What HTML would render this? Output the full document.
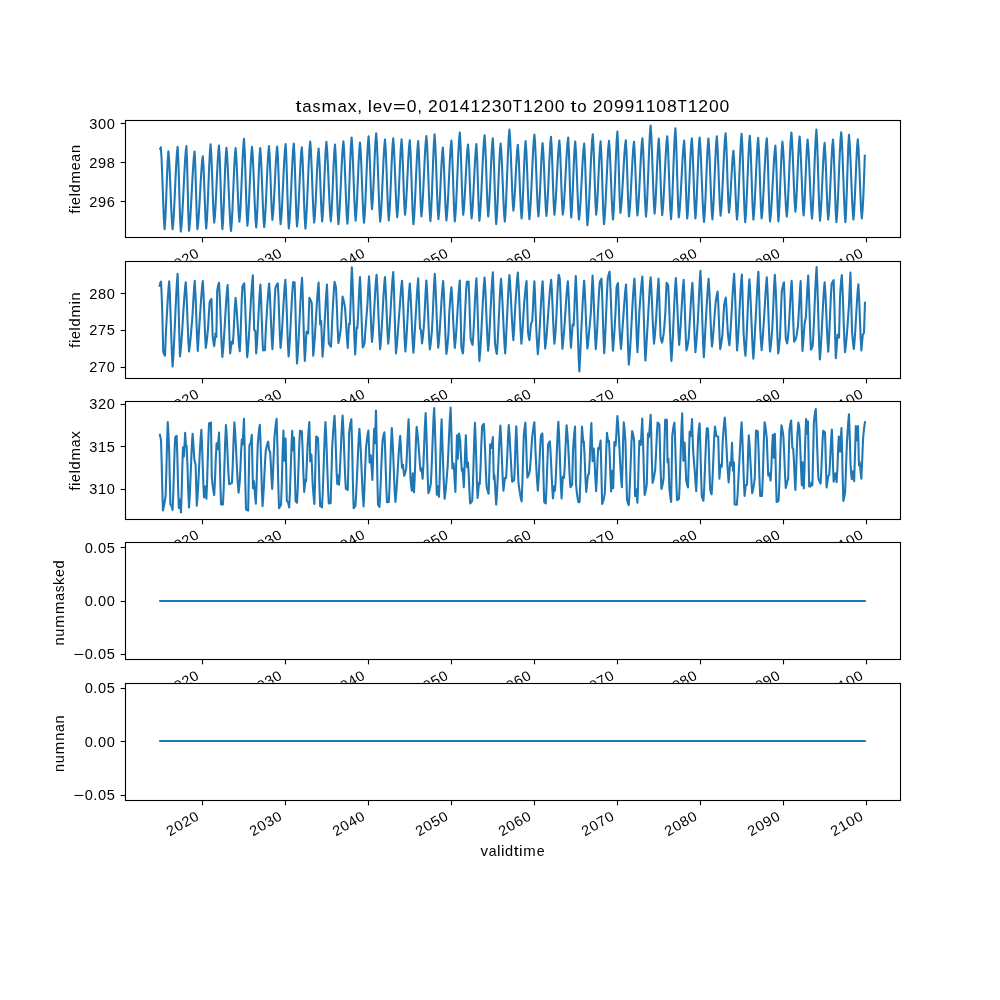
<!DOCTYPE html>
<html><head><meta charset="utf-8"><title>plot</title>
<style>html,body{margin:0;padding:0;background:#fff}svg{display:block;will-change:transform}text{font-family:"Liberation Sans",sans-serif;fill:#000}</style></head><body>
<svg width="1000" height="1000" viewBox="0 0 1000 1000">
<rect width="1000" height="1000" fill="#fff"/>
<g id="ax0">
<rect x="125.0" y="120.00" width="775.0" height="117.24" fill="#fff"/>
<line x1="202.50" x2="202.50" y1="237.50" y2="242.36" stroke="#000" stroke-width="1.11"/>
<line x1="285.50" x2="285.50" y1="237.50" y2="242.36" stroke="#000" stroke-width="1.11"/>
<line x1="368.50" x2="368.50" y1="237.50" y2="242.36" stroke="#000" stroke-width="1.11"/>
<line x1="451.50" x2="451.50" y1="237.50" y2="242.36" stroke="#000" stroke-width="1.11"/>
<line x1="534.50" x2="534.50" y1="237.50" y2="242.36" stroke="#000" stroke-width="1.11"/>
<line x1="617.50" x2="617.50" y1="237.50" y2="242.36" stroke="#000" stroke-width="1.11"/>
<line x1="700.50" x2="700.50" y1="237.50" y2="242.36" stroke="#000" stroke-width="1.11"/>
<line x1="783.50" x2="783.50" y1="237.50" y2="242.36" stroke="#000" stroke-width="1.11"/>
<line x1="866.50" x2="866.50" y1="237.50" y2="242.36" stroke="#000" stroke-width="1.11"/>
<line x1="120.64" x2="125.5" y1="123.50" y2="123.50" stroke="#000" stroke-width="1.11"/>
<text transform="translate(115.28,128.58)" font-size="14.14" xml:space="preserve"><tspan x="-26.15" textLength="8.13" lengthAdjust="spacingAndGlyphs">3</tspan><tspan x="-17.31" textLength="8.13" lengthAdjust="spacingAndGlyphs">0</tspan><tspan x="-8.48" textLength="8.13" lengthAdjust="spacingAndGlyphs">0</tspan></text>
<line x1="120.64" x2="125.5" y1="162.50" y2="162.50" stroke="#000" stroke-width="1.11"/>
<text transform="translate(115.28,167.58)" font-size="14.14" xml:space="preserve"><tspan x="-26.15" textLength="8.13" lengthAdjust="spacingAndGlyphs">2</tspan><tspan x="-17.31" textLength="8.13" lengthAdjust="spacingAndGlyphs">9</tspan><tspan x="-8.48" textLength="8.13" lengthAdjust="spacingAndGlyphs">8</tspan></text>
<line x1="120.64" x2="125.5" y1="201.50" y2="201.50" stroke="#000" stroke-width="1.11"/>
<text transform="translate(115.28,206.58)" font-size="14.14" xml:space="preserve"><tspan x="-26.15" textLength="8.13" lengthAdjust="spacingAndGlyphs">2</tspan><tspan x="-17.31" textLength="8.13" lengthAdjust="spacingAndGlyphs">9</tspan><tspan x="-8.48" textLength="8.13" lengthAdjust="spacingAndGlyphs">6</tspan></text>
<text transform="translate(200.12,256.14) rotate(-30)" font-size="14.14" xml:space="preserve"><tspan x="-34.98" textLength="8.13" lengthAdjust="spacingAndGlyphs">2</tspan><tspan x="-26.15" textLength="8.13" lengthAdjust="spacingAndGlyphs">0</tspan><tspan x="-17.31" textLength="8.13" lengthAdjust="spacingAndGlyphs">2</tspan><tspan x="-8.48" textLength="8.13" lengthAdjust="spacingAndGlyphs">0</tspan></text>
<text transform="translate(283.16,256.14) rotate(-30)" font-size="14.14" xml:space="preserve"><tspan x="-34.98" textLength="8.13" lengthAdjust="spacingAndGlyphs">2</tspan><tspan x="-26.15" textLength="8.13" lengthAdjust="spacingAndGlyphs">0</tspan><tspan x="-17.31" textLength="8.13" lengthAdjust="spacingAndGlyphs">3</tspan><tspan x="-8.48" textLength="8.13" lengthAdjust="spacingAndGlyphs">0</tspan></text>
<text transform="translate(366.17,256.14) rotate(-30)" font-size="14.14" xml:space="preserve"><tspan x="-34.98" textLength="8.13" lengthAdjust="spacingAndGlyphs">2</tspan><tspan x="-26.15" textLength="8.13" lengthAdjust="spacingAndGlyphs">0</tspan><tspan x="-17.31" textLength="8.13" lengthAdjust="spacingAndGlyphs">4</tspan><tspan x="-8.48" textLength="8.13" lengthAdjust="spacingAndGlyphs">0</tspan></text>
<text transform="translate(449.21,256.14) rotate(-30)" font-size="14.14" xml:space="preserve"><tspan x="-34.98" textLength="8.13" lengthAdjust="spacingAndGlyphs">2</tspan><tspan x="-26.15" textLength="8.13" lengthAdjust="spacingAndGlyphs">0</tspan><tspan x="-17.31" textLength="8.13" lengthAdjust="spacingAndGlyphs">5</tspan><tspan x="-8.48" textLength="8.13" lengthAdjust="spacingAndGlyphs">0</tspan></text>
<text transform="translate(532.23,256.14) rotate(-30)" font-size="14.14" xml:space="preserve"><tspan x="-34.98" textLength="8.13" lengthAdjust="spacingAndGlyphs">2</tspan><tspan x="-26.15" textLength="8.13" lengthAdjust="spacingAndGlyphs">0</tspan><tspan x="-17.31" textLength="8.13" lengthAdjust="spacingAndGlyphs">6</tspan><tspan x="-8.48" textLength="8.13" lengthAdjust="spacingAndGlyphs">0</tspan></text>
<text transform="translate(615.27,256.14) rotate(-30)" font-size="14.14" xml:space="preserve"><tspan x="-34.98" textLength="8.13" lengthAdjust="spacingAndGlyphs">2</tspan><tspan x="-26.15" textLength="8.13" lengthAdjust="spacingAndGlyphs">0</tspan><tspan x="-17.31" textLength="8.13" lengthAdjust="spacingAndGlyphs">7</tspan><tspan x="-8.48" textLength="8.13" lengthAdjust="spacingAndGlyphs">0</tspan></text>
<text transform="translate(698.28,256.14) rotate(-30)" font-size="14.14" xml:space="preserve"><tspan x="-34.98" textLength="8.13" lengthAdjust="spacingAndGlyphs">2</tspan><tspan x="-26.15" textLength="8.13" lengthAdjust="spacingAndGlyphs">0</tspan><tspan x="-17.31" textLength="8.13" lengthAdjust="spacingAndGlyphs">8</tspan><tspan x="-8.48" textLength="8.13" lengthAdjust="spacingAndGlyphs">0</tspan></text>
<text transform="translate(781.32,256.14) rotate(-30)" font-size="14.14" xml:space="preserve"><tspan x="-34.98" textLength="8.13" lengthAdjust="spacingAndGlyphs">2</tspan><tspan x="-26.15" textLength="8.13" lengthAdjust="spacingAndGlyphs">0</tspan><tspan x="-17.31" textLength="8.13" lengthAdjust="spacingAndGlyphs">9</tspan><tspan x="-8.48" textLength="8.13" lengthAdjust="spacingAndGlyphs">0</tspan></text>
<text transform="translate(864.34,256.14) rotate(-30)" font-size="14.14" xml:space="preserve"><tspan x="-34.98" textLength="8.13" lengthAdjust="spacingAndGlyphs">2</tspan><tspan x="-26.15" textLength="8.13" lengthAdjust="spacingAndGlyphs">1</tspan><tspan x="-17.31" textLength="8.13" lengthAdjust="spacingAndGlyphs">0</tspan><tspan x="-8.48" textLength="8.13" lengthAdjust="spacingAndGlyphs">0</tspan></text>
<text transform="translate(79.94,179.32) rotate(-90)" font-size="14.14" xml:space="preserve"><tspan x="-34.48" textLength="4.50" lengthAdjust="spacingAndGlyphs">f</tspan><tspan x="-29.64" textLength="3.55" lengthAdjust="spacingAndGlyphs">i</tspan><tspan x="-25.59" textLength="7.86" lengthAdjust="spacingAndGlyphs">e</tspan><tspan x="-17.23" textLength="3.55" lengthAdjust="spacingAndGlyphs">l</tspan><tspan x="-13.18" textLength="8.11" lengthAdjust="spacingAndGlyphs">d</tspan><tspan x="-4.17" textLength="12.45" lengthAdjust="spacingAndGlyphs">m</tspan><tspan x="9.16" textLength="7.86" lengthAdjust="spacingAndGlyphs">e</tspan><tspan x="17.70" textLength="7.83" lengthAdjust="spacingAndGlyphs">a</tspan><tspan x="26.23" textLength="8.10" lengthAdjust="spacingAndGlyphs">n</tspan></text>
<path d="M160.23 148.90 L160.80 147.24 L161.56 158.12 L162.32 177.26 L163.08 199.14 L163.84 218.28 L164.60 229.16 L165.36 218.81 L166.12 200.61 L166.88 179.79 L167.64 161.59 L168.40 151.24 L169.10 159.18 L169.80 173.17 L170.50 190.20 L171.20 207.23 L171.90 221.22 L172.60 229.16 L173.31 222.44 L174.03 210.68 L174.74 195.90 L175.46 180.10 L176.17 165.32 L176.89 153.56 L177.60 146.84 L178.24 158.09 L178.88 177.88 L179.52 200.52 L180.16 220.31 L180.80 231.56 L181.50 225.78 L182.20 215.79 L182.90 203.00 L183.60 188.80 L184.30 174.60 L185.00 161.81 L185.70 151.82 L186.40 146.04 L187.05 161.66 L187.70 188.40 L188.35 215.14 L189.00 230.76 L189.70 225.40 L190.40 216.13 L191.10 204.27 L191.80 191.10 L192.50 177.93 L193.20 166.07 L193.90 156.80 L194.60 151.44 L195.30 165.77 L196.00 190.30 L196.70 214.83 L197.40 229.16 L198.08 224.23 L198.75 215.71 L199.43 204.81 L200.10 192.70 L200.78 180.59 L201.45 169.69 L202.12 161.17 L202.80 156.24 L203.48 165.85 L204.16 182.74 L204.84 202.06 L205.52 218.95 L206.20 228.56 L206.93 219.97 L207.67 204.82 L208.40 186.40 L209.13 167.98 L209.87 152.83 L210.60 144.24 L211.32 154.67 L212.04 173.01 L212.76 193.99 L213.48 212.33 L214.20 222.76 L214.89 216.45 L215.57 205.40 L216.26 191.52 L216.94 176.68 L217.63 162.80 L218.31 151.75 L219.00 145.44 L219.68 156.56 L220.36 176.12 L221.04 198.48 L221.72 218.04 L222.40 229.16 L223.07 220.88 L223.73 206.27 L224.40 188.50 L225.07 170.73 L225.73 156.12 L226.40 147.84 L227.06 154.63 L227.71 166.50 L228.37 181.43 L229.03 197.37 L229.69 212.30 L230.34 224.17 L231.00 230.96 L231.66 224.19 L232.31 212.34 L232.97 197.45 L233.63 181.55 L234.29 166.66 L234.94 154.81 L235.60 148.04 L236.36 157.83 L237.12 175.05 L237.88 194.75 L238.64 211.97 L239.40 221.76 L240.06 214.99 L240.71 203.14 L241.37 188.25 L242.03 172.35 L242.69 157.46 L243.34 145.61 L244.00 138.84 L244.68 150.38 L245.36 170.69 L246.04 193.91 L246.72 214.22 L247.40 225.76 L248.06 219.32 L248.71 208.04 L249.37 193.87 L250.03 178.73 L250.69 164.56 L251.34 153.28 L252.00 146.84 L252.70 155.04 L253.40 169.51 L254.10 187.10 L254.80 204.69 L255.50 219.16 L256.20 227.36 L256.87 219.28 L257.53 205.03 L258.20 187.70 L258.87 170.37 L259.53 156.12 L260.20 148.04 L260.87 156.10 L261.53 170.31 L262.20 187.60 L262.87 204.89 L263.53 219.10 L264.20 227.16 L264.89 220.54 L265.57 208.95 L266.26 194.38 L266.94 178.82 L267.63 164.25 L268.31 152.66 L269.00 146.04 L269.68 155.86 L270.36 173.12 L271.04 192.88 L271.72 210.14 L272.40 219.96 L273.09 213.96 L273.77 203.45 L274.46 190.25 L275.14 176.15 L275.83 162.95 L276.51 152.44 L277.20 146.44 L277.88 156.76 L278.56 174.92 L279.24 195.68 L279.92 213.84 L280.60 224.16 L281.31 217.62 L282.03 206.17 L282.74 191.78 L283.46 176.42 L284.17 162.03 L284.89 150.58 L285.60 144.04 L286.24 155.27 L286.88 175.01 L287.52 197.59 L288.16 217.33 L288.80 228.56 L289.51 221.61 L290.23 209.45 L290.94 194.16 L291.66 177.84 L292.37 162.55 L293.09 150.39 L293.80 143.44 L294.44 154.45 L295.08 173.82 L295.72 195.98 L296.36 215.35 L297.00 226.36 L297.69 219.90 L298.37 208.60 L299.06 194.39 L299.74 179.21 L300.43 165.00 L301.11 153.70 L301.80 147.24 L302.52 158.04 L303.24 177.04 L303.96 198.76 L304.68 217.76 L305.40 228.56 L306.09 221.45 L306.77 209.00 L307.46 193.36 L308.14 176.64 L308.83 161.00 L309.51 148.55 L310.20 141.44 L310.87 149.70 L311.53 164.27 L312.20 182.00 L312.87 199.73 L313.53 214.30 L314.20 222.56 L314.93 215.01 L315.67 201.70 L316.40 185.50 L317.13 169.30 L317.87 155.99 L318.60 148.44 L319.32 158.12 L320.04 175.16 L320.76 194.64 L321.48 211.68 L322.20 221.36 L322.90 213.26 L323.60 198.98 L324.30 181.60 L325.00 164.22 L325.70 149.94 L326.40 141.84 L327.13 149.94 L327.87 164.22 L328.60 181.60 L329.33 198.98 L330.07 213.26 L330.80 221.36 L331.50 213.52 L332.20 199.71 L332.90 182.90 L333.60 166.09 L334.30 152.28 L335.00 144.44 L335.68 155.03 L336.36 173.65 L337.04 194.95 L337.72 213.57 L338.40 224.16 L339.11 217.39 L339.83 205.54 L340.54 190.65 L341.26 174.75 L341.97 159.86 L342.69 148.01 L343.40 141.24 L344.07 149.65 L344.73 164.47 L345.40 182.50 L346.07 200.53 L346.73 215.35 L347.40 223.76 L348.10 214.97 L348.80 199.46 L349.50 180.60 L350.20 161.74 L350.90 146.23 L351.60 137.44 L352.27 145.93 L352.93 160.89 L353.60 179.10 L354.27 197.31 L354.93 212.27 L355.60 220.76 L356.33 212.78 L357.07 198.71 L357.80 181.60 L358.53 164.49 L359.27 150.42 L360.00 142.44 L360.67 150.62 L361.33 165.05 L362.00 182.60 L362.67 200.15 L363.33 214.58 L364.00 222.76 L364.66 215.70 L365.31 203.34 L365.97 187.80 L366.63 171.20 L367.29 155.66 L367.94 143.30 L368.60 136.24 L369.28 145.93 L369.96 162.96 L370.64 182.44 L371.32 199.47 L372.00 209.16 L372.70 201.43 L373.40 187.79 L374.10 171.20 L374.80 154.61 L375.50 140.97 L376.20 133.24 L376.87 142.24 L377.53 158.10 L378.20 177.40 L378.87 196.70 L379.53 212.56 L380.20 221.56 L380.89 214.87 L381.57 203.17 L382.26 188.46 L382.94 172.74 L383.63 158.03 L384.31 146.33 L385.00 139.64 L385.76 150.36 L386.52 169.22 L387.28 190.78 L388.04 209.64 L388.80 220.36 L389.53 211.99 L390.27 197.24 L391.00 179.30 L391.73 161.36 L392.47 146.61 L393.20 138.24 L393.87 146.28 L394.53 160.46 L395.20 177.70 L395.87 194.94 L396.53 209.12 L397.20 217.16 L397.93 209.22 L398.67 195.23 L399.40 178.20 L400.13 161.17 L400.87 147.18 L401.60 139.24 L402.28 149.27 L402.96 166.91 L403.64 187.09 L404.32 204.73 L405.00 214.76 L405.69 208.68 L406.37 198.03 L407.06 184.65 L407.74 170.35 L408.43 156.97 L409.11 146.32 L409.80 140.24 L410.52 151.39 L411.24 170.99 L411.96 193.41 L412.68 213.01 L413.40 224.16 L414.09 217.37 L414.77 205.50 L415.46 190.57 L416.14 174.63 L416.83 159.70 L417.51 147.83 L418.20 141.04 L418.84 151.04 L419.48 168.64 L420.12 188.76 L420.76 206.36 L421.40 216.36 L422.11 209.80 L422.83 198.33 L423.54 183.90 L424.26 168.50 L424.97 154.07 L425.69 142.60 L426.40 136.04 L427.07 144.71 L427.73 160.00 L428.40 178.60 L429.07 197.20 L429.73 212.49 L430.40 221.16 L431.10 212.31 L431.80 196.69 L432.50 177.70 L433.20 158.71 L433.90 143.09 L434.60 134.24 L435.36 145.52 L436.12 165.36 L436.88 188.04 L437.64 207.88 L438.40 219.16 L439.13 211.85 L439.87 198.97 L440.60 183.30 L441.33 167.63 L442.07 154.75 L442.80 147.44 L443.52 157.12 L444.24 174.16 L444.96 193.64 L445.68 210.68 L446.40 220.36 L447.11 213.83 L447.83 202.42 L448.54 188.07 L449.26 172.73 L449.97 158.38 L450.69 146.97 L451.40 140.44 L452.08 151.19 L452.76 170.09 L453.44 191.71 L454.12 210.61 L454.80 221.36 L455.51 214.12 L456.23 201.44 L456.94 185.51 L457.66 168.49 L458.37 152.56 L459.09 139.88 L459.80 132.64 L460.48 143.55 L461.16 162.73 L461.84 184.67 L462.52 203.85 L463.20 214.76 L463.89 209.02 L464.57 198.97 L465.26 186.34 L465.94 172.86 L466.63 160.23 L467.31 150.18 L468.00 144.44 L468.72 154.26 L469.44 171.52 L470.16 191.28 L470.88 208.54 L471.60 218.36 L472.29 212.29 L472.97 201.67 L473.66 188.33 L474.34 174.07 L475.03 160.73 L475.71 150.11 L476.40 144.04 L477.15 158.19 L477.90 182.40 L478.65 206.61 L479.40 220.76 L480.05 214.98 L480.70 204.99 L481.35 192.20 L482.00 178.00 L482.65 163.80 L483.30 151.01 L483.95 141.02 L484.60 135.24 L485.32 146.01 L486.04 164.96 L486.76 186.64 L487.48 205.59 L488.20 216.36 L488.86 209.98 L489.51 198.82 L490.17 184.79 L490.83 169.81 L491.49 155.78 L492.14 144.62 L492.80 138.24 L493.48 149.65 L494.16 169.72 L494.84 192.68 L495.52 212.75 L496.20 224.16 L496.93 215.94 L497.67 201.44 L498.40 183.80 L499.13 166.16 L499.87 151.66 L500.60 143.44 L501.30 151.40 L502.00 165.43 L502.70 182.50 L503.40 199.57 L504.10 213.60 L504.80 221.56 L505.46 214.05 L506.11 200.92 L506.77 184.42 L507.43 166.78 L508.09 150.28 L508.74 137.15 L509.40 129.64 L510.07 137.90 L510.73 152.47 L511.40 170.20 L512.07 187.93 L512.73 202.50 L513.40 210.76 L514.13 204.04 L514.87 192.20 L515.60 177.80 L516.33 163.40 L517.07 151.56 L517.80 144.84 L518.56 154.60 L519.32 171.78 L520.08 191.42 L520.84 208.60 L521.60 218.36 L522.27 210.48 L522.93 196.60 L523.60 179.70 L524.27 162.80 L524.93 148.92 L525.60 141.04 L526.36 151.42 L527.12 169.66 L527.88 190.54 L528.64 208.78 L529.40 219.16 L530.11 212.26 L530.83 200.19 L531.54 185.01 L532.26 168.79 L532.97 153.61 L533.69 141.54 L534.40 134.64 L535.07 142.96 L535.73 157.64 L536.40 175.50 L537.07 193.36 L537.73 208.04 L538.40 216.36 L539.10 208.89 L539.80 195.72 L540.50 179.70 L541.20 163.68 L541.90 150.51 L542.60 143.04 L543.36 152.73 L544.12 169.76 L544.88 189.24 L545.64 206.27 L546.40 215.96 L547.06 209.50 L547.71 198.20 L548.37 183.99 L549.03 168.81 L549.69 154.60 L550.34 143.30 L551.00 136.84 L551.68 147.19 L552.36 165.39 L553.04 186.21 L553.72 204.41 L554.40 214.76 L555.11 208.69 L555.83 198.07 L556.54 184.73 L557.26 170.47 L557.97 157.13 L558.69 146.51 L559.40 140.44 L560.08 150.28 L560.76 167.60 L561.44 187.40 L562.12 204.72 L562.80 214.56 L563.47 209.36 L564.15 200.38 L564.83 188.87 L565.50 176.10 L566.17 163.33 L566.85 151.82 L567.53 142.84 L568.20 137.64 L568.95 152.38 L569.70 177.60 L570.45 202.82 L571.20 217.56 L571.87 209.81 L572.53 196.13 L573.20 179.50 L573.87 162.87 L574.53 149.19 L575.20 141.44 L575.96 151.82 L576.72 170.06 L577.48 190.94 L578.24 209.18 L579.00 219.56 L579.65 214.41 L580.30 205.52 L580.95 194.14 L581.60 181.50 L582.25 168.86 L582.90 157.48 L583.55 148.59 L584.20 143.44 L584.84 154.29 L585.48 173.38 L586.12 195.22 L586.76 214.31 L587.40 225.16 L588.07 219.01 L588.75 208.40 L589.42 194.79 L590.10 179.70 L590.77 164.61 L591.45 151.00 L592.12 140.39 L592.80 134.24 L593.48 144.93 L594.16 163.74 L594.84 185.26 L595.52 204.07 L596.20 214.76 L596.93 207.27 L597.67 194.06 L598.40 178.00 L599.13 161.94 L599.87 148.73 L600.60 141.24 L601.28 152.25 L601.96 171.62 L602.64 193.78 L603.32 213.15 L604.00 224.16 L604.71 217.36 L605.43 205.45 L606.14 190.49 L606.86 174.51 L607.57 159.55 L608.29 147.64 L609.00 140.84 L609.67 148.84 L610.33 162.94 L611.00 180.10 L611.67 197.26 L612.33 211.36 L613.00 219.36 L613.73 210.42 L614.47 194.67 L615.20 175.50 L615.93 156.33 L616.67 140.58 L617.40 131.64 L618.15 146.63 L618.90 172.30 L619.65 197.97 L620.40 212.96 L621.07 208.04 L621.75 199.55 L622.42 188.67 L623.10 176.60 L623.77 164.53 L624.45 153.65 L625.12 145.16 L625.80 140.24 L626.44 150.35 L627.08 168.13 L627.72 188.47 L628.36 206.25 L629.00 216.36 L629.71 210.28 L630.43 199.63 L631.14 186.25 L631.86 171.95 L632.57 158.57 L633.29 147.92 L634.00 141.84 L634.68 151.60 L635.36 168.78 L636.04 188.42 L636.72 205.60 L637.40 215.36 L638.11 209.06 L638.83 198.05 L639.54 184.20 L640.26 169.40 L640.97 155.55 L641.69 144.54 L642.40 138.24 L643.12 148.64 L643.84 166.94 L644.56 187.86 L645.28 206.16 L646.00 216.56 L646.66 209.14 L647.31 196.15 L647.97 179.82 L648.63 162.38 L649.29 146.05 L649.94 133.06 L650.60 125.64 L651.27 134.60 L651.93 150.39 L652.60 169.60 L653.27 188.81 L653.93 204.60 L654.60 213.56 L655.30 205.93 L656.00 192.47 L656.70 176.10 L657.40 159.73 L658.10 146.27 L658.80 138.64 L659.48 148.80 L660.16 166.68 L660.84 187.12 L661.52 205.00 L662.20 215.16 L662.91 208.72 L663.63 197.44 L664.34 183.27 L665.06 168.13 L665.77 153.96 L666.49 142.68 L667.20 136.24 L667.96 147.25 L668.72 166.62 L669.48 188.78 L670.24 208.15 L671.00 219.16 L671.73 209.90 L672.47 193.57 L673.20 173.70 L673.93 153.83 L674.67 137.50 L675.40 128.24 L676.08 140.08 L676.76 160.89 L677.44 184.71 L678.12 205.52 L678.80 217.36 L679.47 212.17 L680.15 203.21 L680.83 191.74 L681.50 179.00 L682.17 166.26 L682.85 154.79 L683.53 145.83 L684.20 140.64 L684.95 155.01 L685.70 179.60 L686.45 204.19 L687.20 218.56 L687.86 212.00 L688.51 200.53 L689.17 186.10 L689.83 170.70 L690.49 156.27 L691.14 144.80 L691.80 138.24 L692.52 148.88 L693.24 167.60 L693.96 189.00 L694.68 207.72 L695.40 218.36 L696.10 210.12 L696.80 195.58 L697.50 177.90 L698.20 160.22 L698.90 145.68 L699.60 137.44 L700.33 146.05 L701.07 161.23 L701.80 179.70 L702.53 198.17 L703.27 213.35 L704.00 221.96 L704.73 213.45 L705.47 198.45 L706.20 180.20 L706.93 161.95 L707.67 146.95 L708.40 138.44 L709.07 146.68 L709.73 161.22 L710.40 178.90 L711.07 196.58 L711.73 211.12 L712.40 219.36 L713.13 210.89 L713.87 195.96 L714.60 177.80 L715.33 159.64 L716.07 144.71 L716.80 136.24 L717.56 146.80 L718.32 165.38 L719.08 186.62 L719.84 205.20 L720.60 215.76 L721.31 209.02 L722.03 197.23 L722.74 182.41 L723.46 166.59 L724.17 151.77 L724.89 139.98 L725.60 133.24 L726.28 143.77 L726.96 162.30 L727.64 183.50 L728.32 202.03 L729.00 212.56 L729.73 206.27 L730.47 195.19 L731.20 181.70 L731.93 168.21 L732.67 157.13 L733.40 150.84 L734.12 159.97 L734.84 176.02 L735.56 194.38 L736.28 210.43 L737.00 219.56 L737.66 212.56 L738.31 200.32 L738.97 184.92 L739.63 168.48 L740.29 153.08 L740.94 140.84 L741.60 133.84 L742.32 145.57 L743.04 166.20 L743.76 189.80 L744.48 210.43 L745.20 222.16 L745.86 215.11 L746.51 202.78 L747.17 187.28 L747.83 170.72 L748.49 155.22 L749.14 142.89 L749.80 135.84 L750.52 146.96 L751.24 166.52 L751.96 188.88 L752.68 208.44 L753.40 219.56 L754.09 212.89 L754.77 201.21 L755.46 186.54 L756.14 170.86 L756.83 156.19 L757.51 144.51 L758.20 137.84 L758.88 148.53 L759.56 167.34 L760.24 188.86 L760.92 207.67 L761.60 218.36 L762.25 212.94 L762.90 203.59 L763.55 191.60 L764.20 178.30 L764.85 165.00 L765.50 153.01 L766.15 143.66 L766.80 138.24 L767.44 149.31 L768.08 168.77 L768.72 191.03 L769.36 210.49 L770.00 221.56 L770.67 216.43 L771.35 207.56 L772.02 196.20 L772.70 183.60 L773.38 171.00 L774.05 159.64 L774.73 150.77 L775.40 145.64 L776.15 159.60 L776.90 183.50 L777.65 207.40 L778.40 221.36 L779.07 213.24 L779.73 198.92 L780.40 181.50 L781.07 164.08 L781.73 149.76 L782.40 141.64 L783.13 149.27 L783.87 162.73 L784.60 179.10 L785.33 195.47 L786.07 208.93 L786.80 216.56 L787.46 209.71 L788.11 197.72 L788.77 182.65 L789.43 166.55 L790.09 151.48 L790.74 139.49 L791.40 132.64 L792.07 140.70 L792.73 154.91 L793.40 172.20 L794.07 189.49 L794.73 203.70 L795.40 211.76 L796.10 204.09 L796.80 190.56 L797.50 174.10 L798.20 157.64 L798.90 144.11 L799.60 136.44 L800.27 144.48 L800.93 158.66 L801.60 175.90 L802.27 193.14 L802.93 207.32 L803.60 215.36 L804.27 207.63 L804.93 193.99 L805.60 177.40 L806.27 160.81 L806.93 147.17 L807.60 139.44 L808.33 147.52 L809.07 161.77 L809.80 179.10 L810.53 196.43 L811.27 210.68 L812.00 218.76 L812.73 209.68 L813.47 193.67 L814.20 174.20 L814.93 154.73 L815.67 138.72 L816.40 129.64 L817.12 141.74 L817.84 163.03 L818.56 187.37 L819.28 208.66 L820.00 220.76 L820.66 214.40 L821.31 203.27 L821.97 189.27 L822.63 174.33 L823.29 160.33 L823.94 149.20 L824.60 142.84 L825.32 153.03 L826.04 170.95 L826.76 191.45 L827.48 209.37 L828.20 219.56 L828.89 213.02 L829.57 201.57 L830.26 187.18 L830.94 171.82 L831.63 157.43 L832.31 145.98 L833.00 139.44 L833.68 150.43 L834.36 169.75 L835.04 191.85 L835.72 211.17 L836.40 222.16 L837.09 214.82 L837.77 201.97 L838.46 185.82 L839.14 168.58 L839.83 152.43 L840.51 139.58 L841.20 132.24 L841.90 141.40 L842.60 157.55 L843.30 177.20 L844.00 196.85 L844.70 213.00 L845.40 222.16 L846.12 210.56 L846.84 190.17 L847.56 166.83 L848.28 146.44 L849.00 134.84 L849.73 143.47 L850.47 158.69 L851.20 177.20 L851.93 195.71 L852.67 210.93 L853.40 219.56 L854.13 211.38 L854.87 196.95 L855.60 179.40 L856.33 161.85 L857.07 147.42 L857.80 139.24 L858.47 147.30 L859.13 161.51 L859.80 178.80 L860.47 196.09 L861.13 210.30 L861.80 218.36 L862.55 210.59 L863.30 197.12 L864.05 178.63 L864.80 155.80" fill="none" stroke="#1f77b4" stroke-width="2.08" stroke-linejoin="round" stroke-linecap="square"/>
<rect x="125.5" y="120.50" width="775.0" height="117.00" fill="none" stroke="#000" stroke-width="1.11"/>
<text transform="translate(512.50,111.67)" font-size="16.97" xml:space="preserve"><tspan x="-216.92" textLength="6.01" lengthAdjust="spacingAndGlyphs">t</tspan><tspan x="-210.24" textLength="9.40" lengthAdjust="spacingAndGlyphs">a</tspan><tspan x="-200.09" textLength="7.99" lengthAdjust="spacingAndGlyphs">s</tspan><tspan x="-191.10" textLength="14.93" lengthAdjust="spacingAndGlyphs">m</tspan><tspan x="-175.11" textLength="9.40" lengthAdjust="spacingAndGlyphs">a</tspan><tspan x="-164.91" textLength="9.08" lengthAdjust="spacingAndGlyphs">x</tspan><tspan x="-155.22" textLength="4.88" lengthAdjust="spacingAndGlyphs">,</tspan> <tspan x="-144.65" textLength="4.26" lengthAdjust="spacingAndGlyphs">l</tspan><tspan x="-139.79" textLength="9.43" lengthAdjust="spacingAndGlyphs">e</tspan><tspan x="-129.56" textLength="9.08" lengthAdjust="spacingAndGlyphs">v</tspan><tspan x="-119.52" textLength="12.85" lengthAdjust="spacingAndGlyphs">=</tspan><tspan x="-105.69" textLength="9.75" lengthAdjust="spacingAndGlyphs">0</tspan><tspan x="-95.30" textLength="4.88" lengthAdjust="spacingAndGlyphs">,</tspan> <tspan x="-84.49" textLength="9.75" lengthAdjust="spacingAndGlyphs">2</tspan><tspan x="-73.89" textLength="9.75" lengthAdjust="spacingAndGlyphs">0</tspan><tspan x="-63.29" textLength="9.75" lengthAdjust="spacingAndGlyphs">1</tspan><tspan x="-52.69" textLength="9.75" lengthAdjust="spacingAndGlyphs">4</tspan><tspan x="-42.09" textLength="9.75" lengthAdjust="spacingAndGlyphs">1</tspan><tspan x="-31.49" textLength="9.75" lengthAdjust="spacingAndGlyphs">2</tspan><tspan x="-20.89" textLength="9.75" lengthAdjust="spacingAndGlyphs">3</tspan><tspan x="-10.29" textLength="9.75" lengthAdjust="spacingAndGlyphs">0</tspan><tspan x="0.29" textLength="9.37" lengthAdjust="spacingAndGlyphs">T</tspan><tspan x="10.49" textLength="9.75" lengthAdjust="spacingAndGlyphs">1</tspan><tspan x="21.09" textLength="9.75" lengthAdjust="spacingAndGlyphs">2</tspan><tspan x="31.69" textLength="9.75" lengthAdjust="spacingAndGlyphs">0</tspan><tspan x="42.29" textLength="9.75" lengthAdjust="spacingAndGlyphs">0</tspan> <tspan x="58.03" textLength="6.01" lengthAdjust="spacingAndGlyphs">t</tspan><tspan x="64.71" textLength="9.38" lengthAdjust="spacingAndGlyphs">o</tspan> <tspan x="80.22" textLength="9.75" lengthAdjust="spacingAndGlyphs">2</tspan><tspan x="90.82" textLength="9.75" lengthAdjust="spacingAndGlyphs">0</tspan><tspan x="101.42" textLength="9.75" lengthAdjust="spacingAndGlyphs">9</tspan><tspan x="112.02" textLength="9.75" lengthAdjust="spacingAndGlyphs">9</tspan><tspan x="122.62" textLength="9.75" lengthAdjust="spacingAndGlyphs">1</tspan><tspan x="133.22" textLength="9.75" lengthAdjust="spacingAndGlyphs">1</tspan><tspan x="143.82" textLength="9.75" lengthAdjust="spacingAndGlyphs">0</tspan><tspan x="154.42" textLength="9.75" lengthAdjust="spacingAndGlyphs">8</tspan><tspan x="165.01" textLength="9.37" lengthAdjust="spacingAndGlyphs">T</tspan><tspan x="175.21" textLength="9.75" lengthAdjust="spacingAndGlyphs">1</tspan><tspan x="185.81" textLength="9.75" lengthAdjust="spacingAndGlyphs">2</tspan><tspan x="196.41" textLength="9.75" lengthAdjust="spacingAndGlyphs">0</tspan><tspan x="207.01" textLength="9.75" lengthAdjust="spacingAndGlyphs">0</tspan></text>
</g>
<g id="ax1">
<rect x="125.0" y="260.69" width="775.0" height="117.24" fill="#fff"/>
<line x1="202.50" x2="202.50" y1="378.50" y2="383.36" stroke="#000" stroke-width="1.11"/>
<line x1="285.50" x2="285.50" y1="378.50" y2="383.36" stroke="#000" stroke-width="1.11"/>
<line x1="368.50" x2="368.50" y1="378.50" y2="383.36" stroke="#000" stroke-width="1.11"/>
<line x1="451.50" x2="451.50" y1="378.50" y2="383.36" stroke="#000" stroke-width="1.11"/>
<line x1="534.50" x2="534.50" y1="378.50" y2="383.36" stroke="#000" stroke-width="1.11"/>
<line x1="617.50" x2="617.50" y1="378.50" y2="383.36" stroke="#000" stroke-width="1.11"/>
<line x1="700.50" x2="700.50" y1="378.50" y2="383.36" stroke="#000" stroke-width="1.11"/>
<line x1="783.50" x2="783.50" y1="378.50" y2="383.36" stroke="#000" stroke-width="1.11"/>
<line x1="866.50" x2="866.50" y1="378.50" y2="383.36" stroke="#000" stroke-width="1.11"/>
<line x1="120.64" x2="125.5" y1="293.50" y2="293.50" stroke="#000" stroke-width="1.11"/>
<text transform="translate(115.28,298.58)" font-size="14.14" xml:space="preserve"><tspan x="-26.15" textLength="8.13" lengthAdjust="spacingAndGlyphs">2</tspan><tspan x="-17.31" textLength="8.13" lengthAdjust="spacingAndGlyphs">8</tspan><tspan x="-8.48" textLength="8.13" lengthAdjust="spacingAndGlyphs">0</tspan></text>
<line x1="120.64" x2="125.5" y1="330.50" y2="330.50" stroke="#000" stroke-width="1.11"/>
<text transform="translate(115.28,335.48)" font-size="14.14" xml:space="preserve"><tspan x="-26.15" textLength="8.13" lengthAdjust="spacingAndGlyphs">2</tspan><tspan x="-17.31" textLength="8.13" lengthAdjust="spacingAndGlyphs">7</tspan><tspan x="-8.48" textLength="8.13" lengthAdjust="spacingAndGlyphs">5</tspan></text>
<line x1="120.64" x2="125.5" y1="367.50" y2="367.50" stroke="#000" stroke-width="1.11"/>
<text transform="translate(115.28,372.38)" font-size="14.14" xml:space="preserve"><tspan x="-26.15" textLength="8.13" lengthAdjust="spacingAndGlyphs">2</tspan><tspan x="-17.31" textLength="8.13" lengthAdjust="spacingAndGlyphs">7</tspan><tspan x="-8.48" textLength="8.13" lengthAdjust="spacingAndGlyphs">0</tspan></text>
<text transform="translate(200.12,396.83) rotate(-30)" font-size="14.14" xml:space="preserve"><tspan x="-34.98" textLength="8.13" lengthAdjust="spacingAndGlyphs">2</tspan><tspan x="-26.15" textLength="8.13" lengthAdjust="spacingAndGlyphs">0</tspan><tspan x="-17.31" textLength="8.13" lengthAdjust="spacingAndGlyphs">2</tspan><tspan x="-8.48" textLength="8.13" lengthAdjust="spacingAndGlyphs">0</tspan></text>
<text transform="translate(283.16,396.83) rotate(-30)" font-size="14.14" xml:space="preserve"><tspan x="-34.98" textLength="8.13" lengthAdjust="spacingAndGlyphs">2</tspan><tspan x="-26.15" textLength="8.13" lengthAdjust="spacingAndGlyphs">0</tspan><tspan x="-17.31" textLength="8.13" lengthAdjust="spacingAndGlyphs">3</tspan><tspan x="-8.48" textLength="8.13" lengthAdjust="spacingAndGlyphs">0</tspan></text>
<text transform="translate(366.17,396.83) rotate(-30)" font-size="14.14" xml:space="preserve"><tspan x="-34.98" textLength="8.13" lengthAdjust="spacingAndGlyphs">2</tspan><tspan x="-26.15" textLength="8.13" lengthAdjust="spacingAndGlyphs">0</tspan><tspan x="-17.31" textLength="8.13" lengthAdjust="spacingAndGlyphs">4</tspan><tspan x="-8.48" textLength="8.13" lengthAdjust="spacingAndGlyphs">0</tspan></text>
<text transform="translate(449.21,396.83) rotate(-30)" font-size="14.14" xml:space="preserve"><tspan x="-34.98" textLength="8.13" lengthAdjust="spacingAndGlyphs">2</tspan><tspan x="-26.15" textLength="8.13" lengthAdjust="spacingAndGlyphs">0</tspan><tspan x="-17.31" textLength="8.13" lengthAdjust="spacingAndGlyphs">5</tspan><tspan x="-8.48" textLength="8.13" lengthAdjust="spacingAndGlyphs">0</tspan></text>
<text transform="translate(532.23,396.83) rotate(-30)" font-size="14.14" xml:space="preserve"><tspan x="-34.98" textLength="8.13" lengthAdjust="spacingAndGlyphs">2</tspan><tspan x="-26.15" textLength="8.13" lengthAdjust="spacingAndGlyphs">0</tspan><tspan x="-17.31" textLength="8.13" lengthAdjust="spacingAndGlyphs">6</tspan><tspan x="-8.48" textLength="8.13" lengthAdjust="spacingAndGlyphs">0</tspan></text>
<text transform="translate(615.27,396.83) rotate(-30)" font-size="14.14" xml:space="preserve"><tspan x="-34.98" textLength="8.13" lengthAdjust="spacingAndGlyphs">2</tspan><tspan x="-26.15" textLength="8.13" lengthAdjust="spacingAndGlyphs">0</tspan><tspan x="-17.31" textLength="8.13" lengthAdjust="spacingAndGlyphs">7</tspan><tspan x="-8.48" textLength="8.13" lengthAdjust="spacingAndGlyphs">0</tspan></text>
<text transform="translate(698.28,396.83) rotate(-30)" font-size="14.14" xml:space="preserve"><tspan x="-34.98" textLength="8.13" lengthAdjust="spacingAndGlyphs">2</tspan><tspan x="-26.15" textLength="8.13" lengthAdjust="spacingAndGlyphs">0</tspan><tspan x="-17.31" textLength="8.13" lengthAdjust="spacingAndGlyphs">8</tspan><tspan x="-8.48" textLength="8.13" lengthAdjust="spacingAndGlyphs">0</tspan></text>
<text transform="translate(781.32,396.83) rotate(-30)" font-size="14.14" xml:space="preserve"><tspan x="-34.98" textLength="8.13" lengthAdjust="spacingAndGlyphs">2</tspan><tspan x="-26.15" textLength="8.13" lengthAdjust="spacingAndGlyphs">0</tspan><tspan x="-17.31" textLength="8.13" lengthAdjust="spacingAndGlyphs">9</tspan><tspan x="-8.48" textLength="8.13" lengthAdjust="spacingAndGlyphs">0</tspan></text>
<text transform="translate(864.34,396.83) rotate(-30)" font-size="14.14" xml:space="preserve"><tspan x="-34.98" textLength="8.13" lengthAdjust="spacingAndGlyphs">2</tspan><tspan x="-26.15" textLength="8.13" lengthAdjust="spacingAndGlyphs">1</tspan><tspan x="-17.31" textLength="8.13" lengthAdjust="spacingAndGlyphs">0</tspan><tspan x="-8.48" textLength="8.13" lengthAdjust="spacingAndGlyphs">0</tspan></text>
<text transform="translate(79.94,320.01) rotate(-90)" font-size="14.14" xml:space="preserve"><tspan x="-27.89" textLength="4.50" lengthAdjust="spacingAndGlyphs">f</tspan><tspan x="-23.04" textLength="3.55" lengthAdjust="spacingAndGlyphs">i</tspan><tspan x="-18.99" textLength="7.86" lengthAdjust="spacingAndGlyphs">e</tspan><tspan x="-10.64" textLength="3.55" lengthAdjust="spacingAndGlyphs">l</tspan><tspan x="-6.58" textLength="8.11" lengthAdjust="spacingAndGlyphs">d</tspan><tspan x="2.43" textLength="12.45" lengthAdjust="spacingAndGlyphs">m</tspan><tspan x="15.57" textLength="3.55" lengthAdjust="spacingAndGlyphs">i</tspan><tspan x="19.63" textLength="8.10" lengthAdjust="spacingAndGlyphs">n</tspan></text>
<path d="M159.60 285.64 L160.32 282.89 L161.04 281.64 L161.70 295.83 L162.36 315.40 L163.20 351.40 L163.80 353.38 L164.40 354.81 L165.00 355.76 L165.96 331.60 L166.61 319.81 L167.26 308.05 L167.90 297.16 L168.55 287.99 L169.20 281.40 L169.87 294.35 L170.54 313.42 L171.22 334.54 L171.89 353.61 L172.56 366.56 L173.28 357.37 L174.00 344.12 L174.72 328.44 L175.44 311.96 L176.16 296.28 L176.88 283.03 L177.60 273.84 L178.40 298.29 L179.20 331.91 L180.00 356.36 L180.72 350.13 L181.44 341.30 L182.16 330.74 L182.88 319.30 L183.60 307.86 L184.32 297.30 L185.04 288.47 L185.76 282.24 L186.41 292.78 L187.06 308.30 L187.70 325.50 L188.35 341.02 L189.00 351.56 L189.65 347.24 L190.30 341.21 L190.94 334.09 L191.59 326.48 L192.24 319.00 L192.87 309.05 L193.50 297.92 L194.13 287.74 L194.76 280.68 L195.51 294.96 L196.26 315.82 L197.01 336.68 L197.76 350.96 L198.36 342.10 L198.96 331.00 L199.60 321.67 L200.24 311.95 L200.88 302.44 L201.52 293.72 L202.16 286.39 L202.80 281.04 L203.55 294.63 L204.30 314.50 L205.05 334.37 L205.80 347.96 L206.60 342.58 L207.40 334.79 L208.20 326.20 L208.92 313.41 L209.64 302.20 L210.24 300.83 L210.84 299.76 L211.44 299.04 L212.04 316.58 L212.64 335.80 L213.42 342.07 L214.20 346.16 L214.86 339.78 L215.52 333.40 L216.36 337.00 L217.20 290.68 L217.80 287.16 L218.40 284.56 L219.00 282.84 L219.67 294.11 L220.34 310.71 L221.02 329.09 L221.69 345.69 L222.36 356.96 L223.02 350.92 L223.68 342.34 L224.34 332.08 L225.00 320.98 L225.66 309.88 L226.32 299.62 L226.98 291.05 L227.64 285.00 L228.27 298.89 L228.90 319.18 L229.53 339.47 L230.16 353.36 L230.88 347.58 L231.60 341.80 L232.20 342.70 L232.80 343.60 L233.49 334.31 L234.18 320.72 L234.87 307.14 L235.56 297.84 L236.26 304.28 L236.96 313.69 L237.66 324.58 L238.36 335.47 L239.06 344.88 L239.76 351.32 L240.42 338.40 L241.08 319.55 L241.74 300.44 L242.40 286.72 L243.00 285.32 L243.60 284.20 L244.20 283.44 L244.95 298.45 L245.70 320.38 L246.45 342.31 L247.20 357.32 L247.91 350.44 L248.61 340.68 L249.32 329.00 L250.02 316.36 L250.73 303.72 L251.43 292.04 L252.14 282.28 L252.84 275.40 L253.50 302.44 L254.16 329.80 L254.76 330.39 L255.36 331.00 L256.20 353.36 L256.90 345.09 L257.60 333.00 L258.30 319.00 L259.00 305.00 L259.70 292.91 L260.40 284.64 L261.06 297.99 L261.72 317.50 L262.38 337.01 L263.04 350.36 L263.68 350.33 L264.32 350.27 L264.96 350.20 L265.80 329.80 L266.47 318.75 L267.14 307.86 L267.82 297.87 L268.49 289.49 L269.16 283.44 L269.81 293.43 L270.46 308.15 L271.10 324.45 L271.75 339.17 L272.40 349.16 L273.15 336.92 L273.90 319.09 L274.65 300.95 L275.40 287.80 L276.20 285.93 L277.00 284.45 L277.80 283.44 L278.49 296.55 L279.18 315.70 L279.87 334.85 L280.56 347.96 L281.25 341.21 L281.93 331.48 L282.62 319.96 L283.30 307.84 L283.99 296.32 L284.67 286.59 L285.36 279.84 L286.01 291.47 L286.66 308.61 L287.30 327.59 L287.95 344.73 L288.60 356.36 L289.25 348.99 L289.90 338.37 L290.55 325.79 L291.21 312.57 L291.86 299.99 L292.51 289.37 L293.16 282.00 L293.88 282.16 L294.60 282.40 L295.40 306.54 L296.20 339.56 L297.00 363.56 L297.72 355.06 L298.44 342.81 L299.16 328.31 L299.88 313.05 L300.60 298.55 L301.32 286.30 L302.04 277.80 L302.73 294.68 L303.42 319.36 L304.11 344.04 L304.80 360.92 L305.40 352.23 L306.00 340.29 L306.60 331.60 L307.38 332.50 L308.16 333.40 L308.76 315.62 L309.36 297.84 L310.16 299.07 L310.96 300.92 L311.76 303.40 L312.48 330.00 L313.20 355.76 L313.88 349.61 L314.55 340.90 L315.23 330.47 L315.90 319.18 L316.58 307.89 L317.25 297.46 L317.93 288.75 L318.60 282.60 L319.38 303.50 L320.16 324.40 L321.12 320.80 L321.84 338.70 L322.56 356.60 L323.30 347.94 L324.04 335.28 L324.78 320.62 L325.52 305.96 L326.26 293.30 L327.00 284.64 L327.60 301.71 L328.20 325.26 L328.80 343.00 L329.52 344.66 L330.24 345.92 L330.96 346.76 L331.68 333.03 L332.40 316.00 L333.12 302.96 L333.84 290.52 L334.56 281.88 L335.28 284.25 L336.00 287.80 L336.80 305.30 L337.60 327.17 L338.40 342.92 L339.20 339.49 L340.00 334.47 L340.80 328.60 L341.40 317.91 L342.00 305.50 L342.60 296.64 L343.40 299.28 L344.20 303.13 L345.00 307.60 L345.69 317.13 L346.38 328.97 L347.07 340.21 L347.76 347.96 L348.36 335.88 L348.96 323.80 L349.80 324.40 L350.48 307.46 L351.16 284.18 L351.84 267.24 L352.51 280.51 L353.18 300.07 L353.86 321.73 L354.53 341.29 L355.20 354.56 L355.92 340.98 L356.64 327.40 L357.36 328.00 L358.02 317.66 L358.68 302.54 L359.34 287.42 L360.00 277.08 L360.69 291.36 L361.38 312.22 L362.07 333.08 L362.76 347.36 L363.36 346.37 L363.96 344.90 L364.56 343.00 L365.40 330.40 L366.08 321.60 L366.76 313.04 L367.44 304.00 L368.22 288.65 L369.00 276.24 L369.75 289.59 L370.50 309.10 L371.25 328.61 L372.00 341.96 L372.65 335.29 L373.30 325.68 L373.95 314.30 L374.61 302.34 L375.26 290.96 L375.91 281.35 L376.56 274.68 L377.28 286.00 L378.00 302.69 L378.72 321.16 L379.44 337.84 L380.16 349.16 L380.85 342.01 L381.53 331.72 L382.22 319.53 L382.90 306.71 L383.59 294.52 L384.27 284.23 L384.96 277.08 L385.61 287.22 L386.26 302.15 L386.90 318.69 L387.55 333.62 L388.20 343.76 L388.92 336.65 L389.64 326.40 L390.36 314.28 L391.08 301.52 L391.80 289.40 L392.52 279.15 L393.24 272.04 L393.93 288.56 L394.62 312.70 L395.31 336.84 L396.00 353.36 L396.75 346.74 L397.50 337.25 L398.25 326.62 L399.00 316.60 L399.75 306.75 L400.50 296.37 L401.25 287.13 L402.00 280.68 L402.67 291.46 L403.34 307.33 L404.02 324.91 L404.69 340.79 L405.36 351.56 L406.10 343.36 L406.84 331.38 L407.58 317.50 L408.32 303.62 L409.06 291.64 L409.80 283.44 L410.52 293.98 L411.24 309.50 L411.96 326.70 L412.68 342.22 L413.40 352.76 L414.00 345.39 L414.60 334.88 L415.20 324.40 L415.95 311.75 L416.70 298.42 L417.45 286.55 L418.20 278.28 L418.80 293.04 L419.40 313.40 L420.00 328.60 L420.96 329.80 L421.50 336.75 L422.04 343.40 L422.76 337.94 L423.48 330.04 L424.20 321.40 L424.92 307.14 L425.64 291.52 L426.36 280.44 L427.06 290.92 L427.75 306.37 L428.45 323.47 L429.14 338.92 L429.84 349.40 L430.56 344.58 L431.28 337.58 L432.00 329.80 L432.69 316.04 L433.38 299.69 L434.07 284.41 L434.76 273.84 L435.46 285.07 L436.15 301.62 L436.85 319.94 L437.54 336.49 L438.24 347.72 L438.94 341.11 L439.65 331.58 L440.35 320.31 L441.05 308.45 L441.75 297.18 L442.46 287.65 L443.16 281.04 L443.81 292.13 L444.46 308.46 L445.10 326.54 L445.75 342.88 L446.40 353.96 L447.12 348.83 L447.84 341.28 L448.56 332.20 L449.16 314.80 L449.92 303.56 L450.68 293.96 L451.44 287.40 L452.11 296.61 L452.78 310.17 L453.46 325.19 L454.13 338.75 L454.80 347.96 L455.52 341.27 L456.24 331.62 L456.96 320.20 L457.68 308.20 L458.40 296.78 L459.12 287.13 L459.84 280.44 L460.62 313.12 L461.40 347.20 L462.18 350.98 L462.96 353.36 L463.60 344.75 L464.24 332.18 L464.88 317.62 L465.52 303.05 L466.16 290.45 L466.80 281.80 L467.40 281.73 L468.00 281.68 L468.60 281.64 L469.28 297.93 L469.96 320.51 L470.64 338.20 L471.28 341.08 L471.92 343.40 L472.56 344.96 L473.20 336.93 L473.84 325.20 L474.48 311.62 L475.12 298.04 L475.76 286.31 L476.40 278.28 L477.15 295.07 L477.90 319.60 L478.65 344.13 L479.40 360.92 L480.14 352.64 L480.87 340.72 L481.61 326.60 L482.35 311.76 L483.09 297.64 L483.82 285.72 L484.56 277.44 L485.28 288.56 L486.00 304.95 L486.72 323.09 L487.44 339.48 L488.16 350.60 L488.83 342.84 L489.50 331.65 L490.17 318.40 L490.83 304.48 L491.50 291.23 L492.17 280.04 L492.84 272.28 L493.56 292.43 L494.28 320.44 L495.00 343.00 L495.60 347.59 L496.20 351.38 L496.80 353.96 L497.50 344.92 L498.20 331.71 L498.90 316.42 L499.60 301.13 L500.30 287.92 L501.00 278.88 L501.70 287.85 L502.40 300.95 L503.10 316.12 L503.80 331.29 L504.50 344.39 L505.20 353.36 L505.80 343.58 L506.40 331.00 L507.15 315.70 L507.90 299.53 L508.65 285.10 L509.40 275.04 L510.06 282.88 L510.72 294.34 L511.38 307.60 L512.04 320.86 L512.70 332.32 L513.36 340.16 L514.04 330.59 L514.72 317.00 L515.40 304.00 L516.20 292.02 L517.00 280.59 L517.80 272.64 L518.52 283.45 L519.24 299.38 L519.96 317.02 L520.68 332.95 L521.40 343.76 L522.15 335.72 L522.90 324.13 L523.65 311.51 L524.40 300.40 L525.12 292.92 L525.84 285.90 L526.56 281.04 L527.28 305.76 L528.00 332.20 L528.72 337.04 L529.44 340.16 L530.22 332.30 L531.00 323.80 L531.60 322.61 L532.20 321.40 L532.92 309.01 L533.64 292.98 L534.36 281.40 L534.96 293.35 L535.56 310.27 L536.16 326.20 L537.00 342.29 L537.84 354.20 L538.53 346.97 L539.21 336.55 L539.90 324.22 L540.58 311.26 L541.27 298.93 L541.95 288.51 L542.64 281.28 L543.27 294.95 L543.90 314.92 L544.53 334.89 L545.16 348.56 L545.83 343.56 L546.49 336.59 L547.16 328.20 L547.83 318.96 L548.49 309.44 L549.16 300.20 L549.83 291.81 L550.49 284.84 L551.16 279.84 L551.81 289.56 L552.46 303.87 L553.10 319.73 L553.75 334.04 L554.40 343.76 L555.00 338.36 L555.60 331.00 L556.35 316.81 L557.10 300.39 L557.85 285.20 L558.60 274.68 L559.20 276.33 L559.80 278.80 L560.46 294.05 L561.12 314.71 L561.78 334.92 L562.44 348.80 L563.22 341.63 L564.00 332.20 L564.64 323.50 L565.28 313.84 L565.92 304.01 L566.56 294.80 L567.20 287.00 L567.84 281.40 L568.46 291.48 L569.09 306.34 L569.71 322.78 L570.34 337.64 L570.96 347.72 L571.80 336.06 L572.64 324.40 L573.60 325.60 L574.32 310.90 L575.04 290.70 L575.76 276.00 L576.48 290.50 L577.20 311.86 L577.92 335.50 L578.64 356.86 L579.36 371.36 L580.20 355.62 L581.04 335.80 L581.66 323.54 L582.29 310.71 L582.91 298.50 L583.54 288.09 L584.16 280.68 L584.81 291.00 L585.46 306.20 L586.10 323.04 L586.75 338.24 L587.40 348.56 L588.00 344.06 L588.60 337.60 L589.20 331.00 L589.80 324.57 L590.40 317.97 L591.00 310.60 L591.78 291.64 L592.56 275.64 L593.21 286.82 L593.86 303.28 L594.50 321.52 L595.15 337.98 L595.80 349.16 L596.46 341.29 L597.12 329.90 L597.78 316.67 L598.44 303.23 L599.10 291.26 L599.76 282.40 L600.60 280.14 L601.44 278.64 L602.13 293.77 L602.82 315.88 L603.51 337.99 L604.20 353.12 L604.92 342.06 L605.64 325.94 L606.36 307.85 L607.08 290.91 L607.80 278.20 L608.40 275.51 L609.00 273.23 L609.60 271.68 L610.27 283.68 L610.94 301.35 L611.62 320.93 L612.29 338.60 L612.96 350.60 L613.62 343.67 L614.28 333.80 L614.94 322.32 L615.60 310.60 L616.56 287.20 L617.28 284.65 L618.00 283.08 L618.72 302.87 L619.44 326.20 L620.22 339.48 L621.00 348.92 L621.60 342.35 L622.20 332.98 L622.80 323.80 L623.45 315.14 L624.10 306.03 L624.74 297.34 L625.39 289.92 L626.04 284.64 L626.73 300.92 L627.42 324.70 L628.11 348.48 L628.80 364.76 L629.51 357.53 L630.21 347.27 L630.92 334.99 L631.62 321.70 L632.33 308.41 L633.03 296.13 L633.74 285.87 L634.44 278.64 L635.19 293.57 L635.94 315.40 L636.69 337.23 L637.44 352.16 L638.08 341.29 L638.72 325.95 L639.36 311.80 L640.11 301.41 L640.86 291.32 L641.61 282.67 L642.36 276.60 L643.11 293.66 L643.86 318.58 L644.61 343.50 L645.36 360.56 L646.04 352.28 L646.72 340.45 L647.40 328.60 L648.05 317.52 L648.70 305.60 L649.34 294.08 L649.99 284.20 L650.64 277.20 L651.31 287.32 L651.98 302.23 L652.66 318.73 L653.33 333.64 L654.00 343.76 L654.72 337.17 L655.44 327.70 L656.16 317.80 L656.96 303.74 L657.76 289.02 L658.56 278.64 L659.24 295.44 L659.92 318.72 L660.60 337.00 L661.32 340.37 L662.04 342.56 L662.64 340.03 L663.24 336.35 L663.84 332.20 L664.62 322.89 L665.40 311.80 L666.00 296.03 L666.60 282.84 L667.38 283.85 L668.16 285.40 L668.81 297.46 L669.46 314.44 L670.10 332.96 L670.75 349.58 L671.40 360.92 L672.14 350.94 L672.88 336.36 L673.62 319.48 L674.36 302.60 L675.10 288.02 L675.84 278.04 L676.51 288.21 L677.18 303.20 L677.86 319.80 L678.53 334.79 L679.20 344.96 L679.80 337.84 L680.40 328.60 L681.05 318.24 L681.70 306.95 L682.34 295.97 L682.99 286.52 L683.64 279.84 L684.33 294.17 L685.02 315.10 L685.71 336.03 L686.40 350.36 L687.08 347.98 L687.76 344.52 L688.44 340.60 L689.10 332.08 L689.76 321.48 L690.42 310.03 L691.08 298.95 L691.74 289.48 L692.40 282.84 L693.15 296.92 L693.90 317.50 L694.65 338.08 L695.40 352.16 L696.20 344.41 L697.00 333.24 L697.80 321.40 L698.46 308.29 L699.12 293.60 L699.78 280.16 L700.44 270.84 L701.11 283.99 L701.78 303.36 L702.46 324.80 L703.13 344.17 L703.80 357.32 L704.40 348.68 L705.00 336.38 L705.60 324.40 L706.35 311.63 L707.10 298.51 L707.85 286.95 L708.60 278.88 L709.27 289.16 L709.94 304.31 L710.62 321.09 L711.29 336.24 L711.96 346.52 L712.60 341.35 L713.24 334.02 L713.88 325.42 L714.52 316.46 L715.16 308.02 L715.80 301.00 L716.40 297.29 L717.00 293.92 L717.60 291.60 L718.26 303.29 L718.92 320.38 L719.58 337.47 L720.24 349.16 L720.96 345.62 L721.68 340.47 L722.40 334.60 L723.00 324.88 L723.60 313.77 L724.20 304.60 L724.98 300.42 L725.76 297.60 L726.44 307.02 L727.12 320.27 L727.80 332.20 L728.58 339.84 L729.36 345.32 L730.05 338.23 L730.73 328.02 L731.42 315.94 L732.10 303.22 L732.79 291.14 L733.47 280.93 L734.16 273.84 L734.88 289.24 L735.60 309.40 L736.32 332.26 L737.04 350.36 L737.73 342.83 L738.41 331.99 L739.10 319.15 L739.78 305.65 L740.47 292.81 L741.15 281.97 L741.84 274.44 L742.44 290.91 L743.04 313.99 L743.64 334.00 L744.24 342.81 L744.84 350.49 L745.44 355.76 L746.10 346.55 L746.76 333.09 L747.42 317.50 L748.08 301.91 L748.74 288.45 L749.40 279.24 L750.06 288.81 L750.72 302.80 L751.38 319.00 L752.04 335.20 L752.70 349.19 L753.36 358.76 L754.16 347.80 L754.96 332.16 L755.76 316.60 L756.42 304.30 L757.08 291.35 L757.74 279.83 L758.40 271.80 L759.00 287.30 L759.60 309.10 L760.20 328.60 L760.92 341.16 L761.64 350.12 L762.36 342.90 L763.08 332.55 L763.80 322.00 L764.55 309.98 L765.30 297.00 L766.05 285.33 L766.80 277.20 L767.45 288.50 L768.10 305.16 L768.74 323.60 L769.39 340.26 L770.04 351.56 L770.76 346.19 L771.48 338.40 L772.20 329.80 L772.86 316.11 L773.52 300.02 L774.18 285.05 L774.84 274.68 L775.80 290.80 L776.60 312.86 L777.40 336.58 L778.20 353.36 L778.80 349.25 L779.40 343.25 L780.00 336.40 L780.60 321.74 L781.20 304.81 L781.80 291.40 L782.52 287.50 L783.24 284.36 L783.96 282.24 L784.56 298.40 L785.16 320.78 L785.76 338.20 L786.48 341.37 L787.20 343.40 L787.92 337.64 L788.64 329.80 L789.39 317.37 L790.14 303.06 L790.89 289.84 L791.64 280.68 L792.27 293.08 L792.90 311.20 L793.53 329.32 L794.16 341.72 L794.84 340.74 L795.52 339.29 L796.20 337.60 L796.80 334.25 L797.40 330.19 L798.00 325.60 L798.66 314.82 L799.32 301.79 L799.98 289.52 L800.64 281.04 L801.24 301.76 L801.84 330.24 L802.44 350.96 L803.16 343.46 L803.88 332.95 L804.60 323.80 L805.20 320.83 L805.80 317.80 L806.60 304.01 L807.40 287.48 L808.20 275.64 L808.89 290.70 L809.58 312.70 L810.27 334.70 L810.96 349.76 L811.80 348.26 L812.64 346.00 L813.30 335.66 L813.96 321.53 L814.62 305.60 L815.28 289.88 L815.94 276.34 L816.60 267.00 L817.25 281.04 L817.90 301.73 L818.54 324.63 L819.19 345.32 L819.84 359.36 L820.53 351.71 L821.21 340.70 L821.90 327.66 L822.58 313.94 L823.27 300.90 L823.95 289.89 L824.64 282.24 L825.36 292.81 L826.08 308.40 L826.80 325.65 L827.52 341.23 L828.24 351.80 L828.91 341.70 L829.58 326.92 L830.26 310.43 L830.93 295.19 L831.60 284.20 L832.28 282.51 L832.96 281.13 L833.64 280.20 L834.36 303.30 L835.08 335.06 L835.80 358.16 L836.40 351.18 L837.00 341.58 L837.60 334.60 L838.32 336.10 L839.04 337.60 L840.00 297.40 L840.60 288.07 L841.20 280.31 L841.80 275.04 L842.45 286.76 L843.10 304.04 L843.74 323.16 L844.39 340.44 L845.04 352.16 L845.70 347.18 L846.36 340.46 L847.02 332.42 L847.68 323.49 L848.34 314.07 L849.00 304.60 L849.72 287.15 L850.44 272.64 L851.22 300.27 L852.00 331.00 L852.60 338.44 L853.20 344.67 L853.80 348.92 L854.45 342.52 L855.10 333.31 L855.75 322.40 L856.41 310.92 L857.06 300.01 L857.71 290.80 L858.36 284.40 L859.11 297.80 L859.86 317.38 L860.61 336.96 L861.36 350.36 L862.08 342.71 L862.80 334.60 L863.40 333.73 L864.00 332.80 L864.96 302.80" fill="none" stroke="#1f77b4" stroke-width="2.08" stroke-linejoin="round" stroke-linecap="square"/>
<rect x="125.5" y="261.50" width="775.0" height="117.00" fill="none" stroke="#000" stroke-width="1.11"/>
</g>
<g id="ax2">
<rect x="125.0" y="401.38" width="775.0" height="117.24" fill="#fff"/>
<line x1="202.50" x2="202.50" y1="519.50" y2="524.36" stroke="#000" stroke-width="1.11"/>
<line x1="285.50" x2="285.50" y1="519.50" y2="524.36" stroke="#000" stroke-width="1.11"/>
<line x1="368.50" x2="368.50" y1="519.50" y2="524.36" stroke="#000" stroke-width="1.11"/>
<line x1="451.50" x2="451.50" y1="519.50" y2="524.36" stroke="#000" stroke-width="1.11"/>
<line x1="534.50" x2="534.50" y1="519.50" y2="524.36" stroke="#000" stroke-width="1.11"/>
<line x1="617.50" x2="617.50" y1="519.50" y2="524.36" stroke="#000" stroke-width="1.11"/>
<line x1="700.50" x2="700.50" y1="519.50" y2="524.36" stroke="#000" stroke-width="1.11"/>
<line x1="783.50" x2="783.50" y1="519.50" y2="524.36" stroke="#000" stroke-width="1.11"/>
<line x1="866.50" x2="866.50" y1="519.50" y2="524.36" stroke="#000" stroke-width="1.11"/>
<line x1="120.64" x2="125.5" y1="404.50" y2="404.50" stroke="#000" stroke-width="1.11"/>
<text transform="translate(115.28,409.28)" font-size="14.14" xml:space="preserve"><tspan x="-26.15" textLength="8.13" lengthAdjust="spacingAndGlyphs">3</tspan><tspan x="-17.31" textLength="8.13" lengthAdjust="spacingAndGlyphs">2</tspan><tspan x="-8.48" textLength="8.13" lengthAdjust="spacingAndGlyphs">0</tspan></text>
<line x1="120.64" x2="125.5" y1="446.50" y2="446.50" stroke="#000" stroke-width="1.11"/>
<text transform="translate(115.28,451.73)" font-size="14.14" xml:space="preserve"><tspan x="-26.15" textLength="8.13" lengthAdjust="spacingAndGlyphs">3</tspan><tspan x="-17.31" textLength="8.13" lengthAdjust="spacingAndGlyphs">1</tspan><tspan x="-8.48" textLength="8.13" lengthAdjust="spacingAndGlyphs">5</tspan></text>
<line x1="120.64" x2="125.5" y1="489.50" y2="489.50" stroke="#000" stroke-width="1.11"/>
<text transform="translate(115.28,494.18)" font-size="14.14" xml:space="preserve"><tspan x="-26.15" textLength="8.13" lengthAdjust="spacingAndGlyphs">3</tspan><tspan x="-17.31" textLength="8.13" lengthAdjust="spacingAndGlyphs">1</tspan><tspan x="-8.48" textLength="8.13" lengthAdjust="spacingAndGlyphs">0</tspan></text>
<text transform="translate(200.12,537.52) rotate(-30)" font-size="14.14" xml:space="preserve"><tspan x="-34.98" textLength="8.13" lengthAdjust="spacingAndGlyphs">2</tspan><tspan x="-26.15" textLength="8.13" lengthAdjust="spacingAndGlyphs">0</tspan><tspan x="-17.31" textLength="8.13" lengthAdjust="spacingAndGlyphs">2</tspan><tspan x="-8.48" textLength="8.13" lengthAdjust="spacingAndGlyphs">0</tspan></text>
<text transform="translate(283.16,537.52) rotate(-30)" font-size="14.14" xml:space="preserve"><tspan x="-34.98" textLength="8.13" lengthAdjust="spacingAndGlyphs">2</tspan><tspan x="-26.15" textLength="8.13" lengthAdjust="spacingAndGlyphs">0</tspan><tspan x="-17.31" textLength="8.13" lengthAdjust="spacingAndGlyphs">3</tspan><tspan x="-8.48" textLength="8.13" lengthAdjust="spacingAndGlyphs">0</tspan></text>
<text transform="translate(366.17,537.52) rotate(-30)" font-size="14.14" xml:space="preserve"><tspan x="-34.98" textLength="8.13" lengthAdjust="spacingAndGlyphs">2</tspan><tspan x="-26.15" textLength="8.13" lengthAdjust="spacingAndGlyphs">0</tspan><tspan x="-17.31" textLength="8.13" lengthAdjust="spacingAndGlyphs">4</tspan><tspan x="-8.48" textLength="8.13" lengthAdjust="spacingAndGlyphs">0</tspan></text>
<text transform="translate(449.21,537.52) rotate(-30)" font-size="14.14" xml:space="preserve"><tspan x="-34.98" textLength="8.13" lengthAdjust="spacingAndGlyphs">2</tspan><tspan x="-26.15" textLength="8.13" lengthAdjust="spacingAndGlyphs">0</tspan><tspan x="-17.31" textLength="8.13" lengthAdjust="spacingAndGlyphs">5</tspan><tspan x="-8.48" textLength="8.13" lengthAdjust="spacingAndGlyphs">0</tspan></text>
<text transform="translate(532.23,537.52) rotate(-30)" font-size="14.14" xml:space="preserve"><tspan x="-34.98" textLength="8.13" lengthAdjust="spacingAndGlyphs">2</tspan><tspan x="-26.15" textLength="8.13" lengthAdjust="spacingAndGlyphs">0</tspan><tspan x="-17.31" textLength="8.13" lengthAdjust="spacingAndGlyphs">6</tspan><tspan x="-8.48" textLength="8.13" lengthAdjust="spacingAndGlyphs">0</tspan></text>
<text transform="translate(615.27,537.52) rotate(-30)" font-size="14.14" xml:space="preserve"><tspan x="-34.98" textLength="8.13" lengthAdjust="spacingAndGlyphs">2</tspan><tspan x="-26.15" textLength="8.13" lengthAdjust="spacingAndGlyphs">0</tspan><tspan x="-17.31" textLength="8.13" lengthAdjust="spacingAndGlyphs">7</tspan><tspan x="-8.48" textLength="8.13" lengthAdjust="spacingAndGlyphs">0</tspan></text>
<text transform="translate(698.28,537.52) rotate(-30)" font-size="14.14" xml:space="preserve"><tspan x="-34.98" textLength="8.13" lengthAdjust="spacingAndGlyphs">2</tspan><tspan x="-26.15" textLength="8.13" lengthAdjust="spacingAndGlyphs">0</tspan><tspan x="-17.31" textLength="8.13" lengthAdjust="spacingAndGlyphs">8</tspan><tspan x="-8.48" textLength="8.13" lengthAdjust="spacingAndGlyphs">0</tspan></text>
<text transform="translate(781.32,537.52) rotate(-30)" font-size="14.14" xml:space="preserve"><tspan x="-34.98" textLength="8.13" lengthAdjust="spacingAndGlyphs">2</tspan><tspan x="-26.15" textLength="8.13" lengthAdjust="spacingAndGlyphs">0</tspan><tspan x="-17.31" textLength="8.13" lengthAdjust="spacingAndGlyphs">9</tspan><tspan x="-8.48" textLength="8.13" lengthAdjust="spacingAndGlyphs">0</tspan></text>
<text transform="translate(864.34,537.52) rotate(-30)" font-size="14.14" xml:space="preserve"><tspan x="-34.98" textLength="8.13" lengthAdjust="spacingAndGlyphs">2</tspan><tspan x="-26.15" textLength="8.13" lengthAdjust="spacingAndGlyphs">1</tspan><tspan x="-17.31" textLength="8.13" lengthAdjust="spacingAndGlyphs">0</tspan><tspan x="-8.48" textLength="8.13" lengthAdjust="spacingAndGlyphs">0</tspan></text>
<text transform="translate(79.94,460.90) rotate(-90)" font-size="14.14" xml:space="preserve"><tspan x="-29.92" textLength="4.50" lengthAdjust="spacingAndGlyphs">f</tspan><tspan x="-25.07" textLength="3.55" lengthAdjust="spacingAndGlyphs">i</tspan><tspan x="-21.03" textLength="7.86" lengthAdjust="spacingAndGlyphs">e</tspan><tspan x="-12.67" textLength="3.55" lengthAdjust="spacingAndGlyphs">l</tspan><tspan x="-8.61" textLength="8.11" lengthAdjust="spacingAndGlyphs">d</tspan><tspan x="0.40" textLength="12.45" lengthAdjust="spacingAndGlyphs">m</tspan><tspan x="13.72" textLength="7.83" lengthAdjust="spacingAndGlyphs">a</tspan><tspan x="22.22" textLength="7.56" lengthAdjust="spacingAndGlyphs">x</tspan></text>
<path d="M159.84 434.80 L160.44 437.18 L161.04 440.80 L161.68 462.65 L162.32 490.48 L162.96 510.56 L163.80 506.87 L164.64 502.00 L165.60 496.00 L166.32 472.53 L167.04 443.18 L167.76 422.04 L168.48 434.27 L169.20 451.60 L169.80 479.95 L170.40 504.40 L171.36 505.60 L171.96 507.92 L172.56 509.96 L173.22 495.28 L173.88 473.86 L174.54 452.29 L175.20 437.20 L175.92 436.37 L176.64 435.84 L177.36 457.22 L178.08 486.62 L178.80 508.00 L179.76 499.60 L180.36 505.98 L180.96 512.36 L181.64 493.11 L182.32 466.65 L183.00 447.40 L183.96 456.40 L184.56 444.62 L185.16 432.84 L186.00 446.20 L186.60 445.60 L187.40 463.96 L188.20 489.20 L189.00 507.56 L189.72 496.33 L190.44 479.78 L191.16 461.46 L191.88 444.91 L192.60 433.68 L193.20 441.08 L193.80 451.40 L194.40 460.00 L195.00 462.32 L195.60 464.80 L196.20 485.82 L196.80 505.76 L197.45 498.23 L198.10 487.39 L198.75 474.55 L199.41 461.05 L200.06 448.21 L200.71 437.37 L201.36 429.84 L202.02 443.56 L202.68 463.60 L203.34 483.64 L204.00 497.36 L204.60 491.88 L205.20 486.40 L205.80 492.52 L206.40 498.64 L207.06 483.40 L207.72 461.14 L208.38 438.82 L209.04 423.40 L209.68 423.07 L210.32 422.81 L210.96 422.64 L211.80 476.80 L212.60 484.94 L213.40 490.96 L214.20 494.96 L215.00 479.62 L215.80 458.54 L216.60 443.20 L217.20 446.20 L217.80 449.20 L218.40 440.84 L219.00 432.48 L219.68 453.84 L220.36 483.20 L221.04 504.56 L221.68 504.52 L222.32 504.47 L222.96 504.40 L223.71 488.25 L224.46 464.69 L225.21 441.15 L225.96 425.04 L226.61 434.03 L227.26 447.27 L227.90 461.93 L228.55 475.17 L229.20 484.16 L229.89 483.95 L230.58 483.65 L231.27 483.27 L231.96 482.80 L232.76 464.73 L233.56 440.21 L234.36 422.40 L235.06 430.85 L235.76 443.19 L236.46 457.48 L237.16 471.77 L237.86 484.11 L238.56 492.56 L239.16 488.00 L239.76 481.60 L240.44 467.31 L241.12 451.12 L241.80 439.60 L242.64 444.40 L243.30 431.60 L243.96 418.80 L244.64 445.49 L245.32 482.23 L246.00 509.20 L246.72 509.80 L247.44 510.26 L248.16 510.56 L248.76 478.39 L249.36 445.60 L250.08 444.04 L250.80 442.60 L251.76 434.88 L252.36 461.54 L252.96 488.20 L253.80 481.00 L254.48 487.70 L255.16 496.90 L255.84 503.60 L256.48 487.11 L257.12 464.04 L257.76 444.40 L258.44 436.37 L259.12 429.50 L259.80 424.80 L260.49 441.32 L261.18 465.46 L261.87 489.60 L262.56 506.12 L263.21 497.95 L263.86 486.08 L264.50 472.72 L265.15 460.08 L265.80 450.40 L266.60 446.75 L267.40 443.69 L268.20 441.60 L269.04 450.40 L269.58 451.01 L270.12 451.60 L270.80 462.96 L271.48 478.03 L272.16 488.96 L272.96 474.34 L273.76 453.83 L274.56 436.00 L275.24 429.08 L275.92 422.99 L276.60 418.80 L277.40 445.28 L278.20 481.68 L279.00 508.16 L279.68 507.30 L280.36 506.03 L281.04 504.40 L281.84 481.88 L282.64 452.05 L283.44 430.44 L284.40 460.60 L285.00 449.62 L285.60 438.64 L286.20 469.57 L286.80 500.80 L287.40 501.42 L288.00 502.00 L288.60 504.90 L289.20 507.56 L289.95 491.97 L290.70 469.18 L291.45 446.39 L292.20 430.80 L293.16 450.40 L294.00 437.44 L294.78 468.87 L295.56 500.80 L296.28 502.01 L297.00 502.76 L297.75 488.14 L298.50 466.78 L299.25 445.42 L300.00 430.80 L300.60 430.89 L301.20 431.03 L301.80 431.20 L302.60 449.28 L303.40 473.99 L304.20 491.96 L304.80 485.88 L305.40 479.80 L306.00 481.60 L306.72 466.36 L307.44 448.00 L308.08 437.84 L308.72 428.50 L309.36 422.04 L310.20 461.20 L310.80 457.90 L311.40 454.60 L312.00 467.50 L312.60 482.80 L313.20 491.21 L313.80 498.76 L314.40 503.96 L315.00 483.95 L315.60 456.45 L316.20 436.44 L316.80 436.83 L317.40 437.41 L318.00 438.16 L318.72 458.61 L319.44 486.18 L320.16 506.20 L321.00 503.20 L321.96 507.56 L322.66 494.56 L323.35 475.40 L324.05 454.20 L324.74 435.04 L325.44 422.04 L326.11 434.40 L326.78 452.62 L327.46 472.78 L328.13 491.00 L328.80 503.36 L329.40 503.32 L330.00 503.27 L330.60 503.20 L331.38 477.55 L332.16 448.00 L332.96 434.84 L333.76 423.47 L334.56 415.68 L335.22 429.56 L335.88 449.84 L336.54 470.12 L337.20 484.00 L338.16 475.60 L339.00 484.76 L339.72 474.22 L340.44 458.70 L341.16 441.50 L341.88 425.98 L342.60 415.44 L343.25 426.54 L343.90 442.86 L344.54 460.97 L345.19 477.43 L345.84 488.80 L346.48 489.28 L347.12 489.66 L347.76 489.92 L348.48 462.16 L349.20 432.40 L349.92 426.74 L350.64 422.28 L351.36 419.28 L352.12 445.62 L352.88 481.82 L353.64 508.16 L354.24 507.56 L354.84 506.68 L355.44 505.60 L356.10 495.82 L356.76 482.17 L357.42 466.65 L358.08 451.26 L358.74 438.01 L359.40 428.88 L360.10 438.21 L360.80 451.84 L361.50 467.62 L362.20 483.40 L362.90 497.03 L363.60 506.36 L364.40 490.07 L365.20 467.29 L366.00 448.00 L366.80 440.80 L367.60 434.64 L368.40 430.44 L369.00 446.42 L369.60 462.40 L370.20 458.80 L370.80 455.20 L371.58 467.58 L372.36 479.96 L372.96 464.80 L373.56 443.96 L374.16 428.80 L375.00 443.20 L375.96 410.64 L376.64 438.18 L377.32 476.13 L378.00 504.40 L378.72 505.97 L379.44 506.96 L380.06 497.27 L380.69 483.18 L381.31 467.33 L381.94 452.32 L382.56 440.80 L383.16 437.28 L383.76 434.29 L384.36 432.24 L385.02 446.44 L385.68 467.20 L386.34 487.96 L387.00 502.16 L387.60 502.12 L388.20 502.07 L388.80 502.00 L389.55 486.94 L390.30 464.99 L391.05 443.05 L391.80 428.04 L392.52 439.27 L393.24 455.82 L393.96 474.14 L394.68 490.69 L395.40 501.92 L396.09 495.37 L396.77 485.93 L397.46 474.76 L398.14 463.00 L398.83 451.83 L399.51 442.39 L400.20 435.84 L400.80 445.31 L401.40 458.33 L402.00 467.80 L402.96 464.80 L403.56 470.28 L404.16 475.76 L404.84 474.03 L405.52 471.49 L406.20 468.40 L407.00 452.78 L407.80 433.30 L408.60 419.28 L409.20 435.35 L409.80 457.81 L410.40 476.80 L411.12 485.09 L411.84 490.76 L412.80 473.20 L413.40 482.68 L414.00 492.16 L414.66 478.89 L415.32 459.50 L415.98 440.11 L416.64 426.84 L417.42 432.82 L418.20 440.80 L419.00 451.52 L419.80 462.83 L420.60 470.80 L421.44 468.40 L422.04 473.58 L422.64 478.76 L423.39 465.41 L424.14 445.90 L424.89 426.39 L425.64 413.04 L426.33 429.32 L427.02 453.10 L427.71 476.88 L428.40 493.16 L429.20 491.00 L430.00 487.83 L430.80 484.00 L431.47 471.10 L432.14 453.91 L432.82 435.56 L433.49 419.22 L434.16 408.00 L434.88 426.24 L435.60 450.40 L436.20 475.07 L436.80 494.80 L437.76 486.40 L438.36 491.58 L438.96 496.76 L439.62 481.02 L440.28 458.02 L440.94 435.02 L441.60 419.28 L442.56 448.00 L443.24 467.20 L443.92 485.82 L444.60 498.80 L445.35 493.35 L446.10 485.58 L446.85 476.52 L447.60 467.20 L448.35 452.20 L449.10 434.84 L449.85 418.77 L450.60 407.64 L451.20 425.64 L451.80 450.40 L452.40 468.40 L453.00 466.00 L453.60 463.60 L454.20 472.00 L454.80 483.56 L455.40 491.96 L456.18 463.68 L456.96 435.40 L457.80 458.80 L458.40 446.12 L459.00 433.44 L459.60 436.44 L460.20 440.80 L460.98 456.69 L461.76 470.80 L462.60 468.40 L463.20 477.78 L463.80 487.16 L464.48 471.78 L465.16 450.62 L465.84 435.24 L466.44 451.22 L467.04 467.20 L468.00 462.40 L468.72 474.54 L469.44 491.22 L470.16 503.36 L470.84 502.77 L471.52 501.91 L472.20 500.80 L472.89 484.53 L473.58 461.44 L474.27 438.56 L474.96 422.88 L475.62 438.13 L476.28 460.42 L476.94 482.71 L477.60 497.96 L478.32 490.38 L479.04 482.80 L479.76 484.00 L480.56 467.08 L481.36 443.74 L482.16 426.16 L483.00 424.74 L483.84 423.84 L484.53 436.16 L485.22 454.09 L485.91 472.53 L486.60 486.40 L487.28 489.49 L487.96 492.03 L488.64 493.76 L489.42 469.08 L490.20 444.40 L490.80 446.20 L491.40 448.00 L492.12 442.52 L492.84 437.04 L493.80 479.20 L494.40 475.00 L495.00 483.76 L495.60 495.80 L496.20 504.56 L496.90 495.06 L497.60 481.18 L498.30 465.10 L499.00 449.02 L499.70 435.14 L500.40 425.64 L501.15 438.87 L501.90 458.20 L502.65 477.53 L503.40 490.76 L504.18 484.38 L504.96 478.00 L505.50 478.00 L506.04 478.00 L506.73 467.24 L507.42 451.52 L508.11 435.80 L508.80 425.04 L509.52 434.59 L510.24 448.22 L510.96 461.80 L511.56 473.04 L512.16 481.76 L512.84 481.32 L513.52 480.66 L514.20 479.80 L514.88 463.65 L515.56 441.97 L516.24 426.24 L516.96 441.75 L517.68 463.40 L518.40 481.60 L519.00 486.63 L519.60 490.88 L520.20 494.80 L520.92 498.69 L521.64 501.56 L522.36 483.17 L523.08 457.50 L523.80 436.00 L524.58 428.06 L525.36 422.64 L526.04 438.91 L526.72 461.29 L527.40 477.56 L528.20 475.97 L529.00 473.64 L529.80 470.80 L530.60 460.83 L531.40 448.37 L532.20 437.20 L532.92 431.31 L533.64 425.97 L534.36 422.28 L534.90 434.92 L535.44 450.40 L536.24 466.09 L537.04 480.67 L537.84 490.76 L538.46 482.46 L539.09 470.29 L539.71 456.73 L540.34 444.27 L540.96 435.40 L541.68 434.22 L542.40 433.44 L543.00 453.64 L543.60 481.46 L544.20 502.00 L544.98 502.84 L545.76 503.36 L546.56 486.19 L547.36 462.46 L548.16 444.40 L549.00 442.47 L549.84 441.24 L550.46 449.92 L551.09 462.70 L551.71 476.86 L552.34 489.64 L552.96 498.32 L553.56 492.36 L554.16 486.40 L555.00 490.60 L555.67 480.12 L556.34 464.69 L557.02 447.60 L557.69 432.16 L558.36 421.68 L559.01 433.37 L559.66 450.59 L560.30 469.65 L560.95 486.87 L561.60 498.56 L562.20 487.68 L562.80 476.80 L563.40 477.40 L564.00 478.00 L564.66 467.32 L565.32 451.70 L565.98 436.09 L566.64 425.40 L567.42 434.01 L568.20 445.60 L568.92 460.36 L569.64 476.07 L570.36 487.16 L570.96 486.61 L571.56 485.77 L572.16 484.60 L573.00 450.40 L573.68 440.38 L574.36 432.17 L575.04 426.60 L576.00 484.00 L576.80 492.07 L577.60 498.12 L578.40 502.16 L579.00 502.10 L579.60 502.00 L580.40 479.58 L581.20 448.84 L582.00 426.48 L582.60 434.24 L583.20 442.00 L583.80 441.40 L584.60 456.38 L585.40 476.98 L586.20 491.96 L586.80 487.07 L587.40 480.30 L588.00 475.00 L588.96 473.80 L589.76 458.38 L590.56 437.87 L591.36 423.00 L591.96 442.10 L592.56 461.20 L593.16 454.90 L593.76 448.60 L594.56 461.20 L595.36 478.52 L596.16 491.12 L596.84 478.34 L597.52 460.78 L598.20 448.00 L599.04 449.20 L599.82 444.92 L600.60 440.64 L601.38 472.30 L602.16 503.96 L602.82 502.29 L603.48 499.95 L604.14 497.02 L604.80 493.60 L605.52 474.47 L606.24 450.28 L606.96 432.84 L607.56 437.42 L608.16 442.00 L609.00 440.80 L609.72 455.78 L610.44 476.38 L611.16 491.36 L611.70 481.08 L612.24 470.80 L613.20 488.20 L613.80 465.10 L614.40 442.00 L615.00 443.80 L615.60 445.60 L616.20 436.84 L616.80 424.80 L617.40 416.04 L618.14 424.60 L618.88 437.11 L619.62 451.60 L620.36 466.09 L621.10 478.60 L621.84 487.16 L622.48 467.97 L623.12 441.59 L623.76 422.40 L624.60 429.81 L625.44 440.80 L626.22 471.30 L627.00 499.60 L627.60 502.02 L628.20 503.90 L628.80 505.16 L629.47 493.89 L630.14 477.29 L630.82 458.91 L631.49 442.31 L632.16 431.04 L632.84 433.30 L633.52 436.72 L634.20 441.40 L635.04 496.00 L636.00 489.40 L636.72 496.08 L637.44 502.76 L638.08 484.40 L638.72 459.16 L639.36 440.80 L640.08 442.90 L640.80 445.00 L641.52 431.72 L642.24 418.44 L643.04 441.11 L643.84 472.29 L644.64 494.96 L645.36 492.49 L646.08 488.81 L646.80 484.00 L647.40 458.07 L648.00 433.60 L648.96 437.20 L649.80 426.02 L650.64 414.84 L651.28 435.02 L651.92 462.78 L652.56 482.96 L653.22 480.75 L653.88 477.62 L654.54 473.82 L655.20 469.60 L656.00 454.24 L656.80 435.83 L657.60 422.64 L658.20 423.06 L658.80 423.70 L659.40 424.60 L660.24 458.20 L660.84 475.95 L661.44 488.96 L662.16 486.46 L662.88 482.74 L663.60 478.00 L664.38 447.99 L665.16 419.80 L666.00 419.83 L666.84 419.88 L667.56 462.40 L668.40 458.80 L669.36 488.20 L669.96 494.00 L670.56 498.72 L671.16 501.92 L671.70 469.79 L672.24 436.00 L672.96 430.07 L673.68 425.61 L674.40 422.64 L675.06 438.38 L675.72 461.38 L676.38 484.38 L677.04 500.12 L677.68 499.86 L678.32 499.48 L678.96 499.00 L679.61 485.75 L680.26 466.52 L680.90 445.35 L681.55 426.26 L682.20 413.28 L682.80 436.94 L683.40 460.60 L684.00 451.60 L684.60 442.60 L685.38 460.48 L686.16 479.80 L686.76 483.07 L687.36 485.72 L687.96 487.52 L688.80 459.66 L689.64 431.80 L690.24 433.90 L690.84 436.00 L691.44 427.52 L692.04 419.04 L693.00 448.00 L693.60 456.79 L694.20 464.40 L694.80 472.00 L695.52 482.76 L696.24 491.12 L696.88 476.14 L697.52 455.18 L698.16 437.20 L698.88 428.95 L699.60 423.24 L700.32 444.40 L701.04 473.64 L701.76 496.00 L702.60 498.89 L703.44 500.72 L704.11 489.70 L704.78 473.45 L705.46 455.47 L706.13 439.22 L706.80 428.20 L707.40 428.37 L708.00 428.64 L708.72 446.28 L709.44 470.52 L710.16 489.40 L710.88 492.40 L711.60 494.36 L712.27 484.04 L712.94 468.84 L713.62 452.00 L714.29 436.80 L714.96 426.48 L715.68 431.18 L716.40 436.00 L717.00 436.22 L717.60 436.37 L718.20 436.60 L718.80 457.73 L719.40 478.76 L720.00 471.78 L720.60 464.80 L721.20 465.70 L721.80 466.60 L722.64 442.60 L723.36 432.34 L724.08 423.51 L724.80 417.48 L725.60 429.00 L726.40 445.38 L727.20 461.20 L727.92 473.23 L728.64 482.36 L729.42 472.38 L730.20 462.40 L731.04 465.40 L732.00 442.80 L732.96 470.80 L733.92 462.40 L734.64 504.40 L735.36 504.59 L736.08 504.72 L736.80 504.80 L737.46 496.76 L738.12 485.24 L738.78 472.30 L739.44 460.00 L740.16 446.07 L740.88 432.08 L741.60 422.28 L742.35 437.24 L743.10 459.10 L743.85 480.96 L744.60 495.92 L745.20 490.63 L745.80 485.20 L746.40 484.90 L747.00 484.60 L747.60 469.85 L748.20 449.81 L748.80 435.24 L749.52 444.37 L750.24 457.45 L750.96 470.80 L751.56 483.30 L752.16 493.16 L752.82 490.76 L753.48 487.40 L754.14 483.13 L754.80 478.00 L755.40 453.47 L756.00 430.60 L756.60 430.78 L757.20 431.05 L757.80 431.40 L758.60 450.69 L759.40 476.93 L760.20 496.00 L760.80 495.98 L761.40 495.95 L762.00 495.92 L762.66 480.95 L763.32 459.09 L763.98 437.23 L764.64 422.28 L765.36 426.10 L766.08 431.70 L766.80 438.40 L767.52 458.08 L768.24 475.60 L769.20 473.20 L769.92 476.88 L770.64 480.56 L771.36 467.00 L772.08 448.36 L772.80 434.80 L773.76 457.60 L774.30 445.64 L774.84 433.68 L775.44 453.92 L776.04 481.76 L776.64 502.00 L777.28 501.71 L777.92 501.27 L778.56 500.72 L779.28 485.15 L780.00 462.78 L780.72 440.52 L781.44 425.28 L782.08 427.84 L782.72 431.59 L783.36 436.00 L784.16 452.95 L784.96 473.36 L785.76 488.00 L786.48 485.08 L787.20 481.60 L788.16 479.20 L788.76 455.68 L789.36 431.20 L789.96 426.57 L790.56 422.93 L791.16 420.48 L791.76 434.14 L792.36 448.00 L793.20 448.60 L793.92 461.04 L794.64 477.77 L795.36 489.92 L796.04 474.84 L796.72 453.63 L797.40 434.80 L798.36 422.64 L798.90 425.15 L799.44 428.80 L800.24 447.03 L801.04 469.25 L801.84 485.20 L802.44 462.40 L803.10 475.38 L803.76 488.36 L804.52 467.82 L805.28 439.58 L806.04 419.04 L806.64 426.32 L807.24 433.60 L807.96 421.36 L808.56 453.96 L809.16 486.56 L809.88 486.50 L810.60 486.40 L811.20 482.80 L811.80 484.00 L812.40 485.20 L813.12 455.14 L813.84 422.80 L814.48 416.93 L815.12 412.24 L815.76 409.08 L816.48 426.21 L817.20 448.00 L817.80 464.57 L818.40 478.00 L819.12 480.46 L819.84 482.32 L820.56 483.56 L821.22 472.84 L821.88 457.18 L822.54 441.52 L823.20 430.80 L823.80 431.16 L824.40 431.69 L825.00 432.40 L825.78 460.13 L826.56 487.52 L827.40 482.07 L828.24 476.20 L829.20 475.00 L829.86 465.37 L830.52 451.90 L831.18 438.60 L831.84 429.48 L832.44 444.97 L833.04 466.27 L833.64 481.76 L834.24 479.22 L834.84 475.74 L835.44 473.20 L836.04 477.70 L836.64 482.20 L837.36 468.69 L838.08 450.11 L838.80 436.60 L839.40 444.10 L840.00 451.60 L840.72 439.82 L841.44 428.04 L842.08 449.65 L842.72 479.35 L843.36 500.96 L844.20 497.56 L845.04 492.40 L845.68 477.55 L846.32 458.89 L846.96 442.00 L847.64 431.06 L848.32 421.11 L849.00 414.24 L849.78 437.85 L850.56 464.80 L851.16 473.29 L851.76 479.20 L852.60 471.40 L853.38 476.28 L854.16 481.16 L855.00 453.66 L855.84 426.16 L856.80 440.20 L857.40 433.10 L858.00 426.00 L858.96 465.40 L859.56 461.80 L860.16 466.82 L860.76 473.73 L861.36 478.76 L862.20 460.23 L863.04 439.00 L863.68 432.24 L864.32 426.37 L864.96 422.20" fill="none" stroke="#1f77b4" stroke-width="2.08" stroke-linejoin="round" stroke-linecap="square"/>
<rect x="125.5" y="401.50" width="775.0" height="118.00" fill="none" stroke="#000" stroke-width="1.11"/>
</g>
<g id="ax3">
<rect x="125.0" y="542.07" width="775.0" height="117.24" fill="#fff"/>
<line x1="202.50" x2="202.50" y1="659.50" y2="664.36" stroke="#000" stroke-width="1.11"/>
<line x1="285.50" x2="285.50" y1="659.50" y2="664.36" stroke="#000" stroke-width="1.11"/>
<line x1="368.50" x2="368.50" y1="659.50" y2="664.36" stroke="#000" stroke-width="1.11"/>
<line x1="451.50" x2="451.50" y1="659.50" y2="664.36" stroke="#000" stroke-width="1.11"/>
<line x1="534.50" x2="534.50" y1="659.50" y2="664.36" stroke="#000" stroke-width="1.11"/>
<line x1="617.50" x2="617.50" y1="659.50" y2="664.36" stroke="#000" stroke-width="1.11"/>
<line x1="700.50" x2="700.50" y1="659.50" y2="664.36" stroke="#000" stroke-width="1.11"/>
<line x1="783.50" x2="783.50" y1="659.50" y2="664.36" stroke="#000" stroke-width="1.11"/>
<line x1="866.50" x2="866.50" y1="659.50" y2="664.36" stroke="#000" stroke-width="1.11"/>
<line x1="120.64" x2="125.5" y1="547.50" y2="547.50" stroke="#000" stroke-width="1.11"/>
<text transform="translate(115.28,552.68)" font-size="14.14" xml:space="preserve"><tspan x="-30.56" textLength="8.13" lengthAdjust="spacingAndGlyphs">0</tspan><tspan x="-21.91" textLength="4.06" lengthAdjust="spacingAndGlyphs">.</tspan><tspan x="-17.31" textLength="8.13" lengthAdjust="spacingAndGlyphs">0</tspan><tspan x="-8.48" textLength="8.13" lengthAdjust="spacingAndGlyphs">5</tspan></text>
<line x1="120.64" x2="125.5" y1="601.50" y2="601.50" stroke="#000" stroke-width="1.11"/>
<text transform="translate(115.28,605.98)" font-size="14.14" xml:space="preserve"><tspan x="-30.56" textLength="8.13" lengthAdjust="spacingAndGlyphs">0</tspan><tspan x="-21.91" textLength="4.06" lengthAdjust="spacingAndGlyphs">.</tspan><tspan x="-17.31" textLength="8.13" lengthAdjust="spacingAndGlyphs">0</tspan><tspan x="-8.48" textLength="8.13" lengthAdjust="spacingAndGlyphs">0</tspan></text>
<line x1="120.64" x2="125.5" y1="654.50" y2="654.50" stroke="#000" stroke-width="1.11"/>
<text transform="translate(115.28,659.28)" font-size="14.14" xml:space="preserve"><tspan x="-42.09" textLength="10.71" lengthAdjust="spacingAndGlyphs">−</tspan><tspan x="-30.56" textLength="8.13" lengthAdjust="spacingAndGlyphs">0</tspan><tspan x="-21.91" textLength="4.06" lengthAdjust="spacingAndGlyphs">.</tspan><tspan x="-17.31" textLength="8.13" lengthAdjust="spacingAndGlyphs">0</tspan><tspan x="-8.48" textLength="8.13" lengthAdjust="spacingAndGlyphs">5</tspan></text>
<text transform="translate(200.12,678.21) rotate(-30)" font-size="14.14" xml:space="preserve"><tspan x="-34.98" textLength="8.13" lengthAdjust="spacingAndGlyphs">2</tspan><tspan x="-26.15" textLength="8.13" lengthAdjust="spacingAndGlyphs">0</tspan><tspan x="-17.31" textLength="8.13" lengthAdjust="spacingAndGlyphs">2</tspan><tspan x="-8.48" textLength="8.13" lengthAdjust="spacingAndGlyphs">0</tspan></text>
<text transform="translate(283.16,678.21) rotate(-30)" font-size="14.14" xml:space="preserve"><tspan x="-34.98" textLength="8.13" lengthAdjust="spacingAndGlyphs">2</tspan><tspan x="-26.15" textLength="8.13" lengthAdjust="spacingAndGlyphs">0</tspan><tspan x="-17.31" textLength="8.13" lengthAdjust="spacingAndGlyphs">3</tspan><tspan x="-8.48" textLength="8.13" lengthAdjust="spacingAndGlyphs">0</tspan></text>
<text transform="translate(366.17,678.21) rotate(-30)" font-size="14.14" xml:space="preserve"><tspan x="-34.98" textLength="8.13" lengthAdjust="spacingAndGlyphs">2</tspan><tspan x="-26.15" textLength="8.13" lengthAdjust="spacingAndGlyphs">0</tspan><tspan x="-17.31" textLength="8.13" lengthAdjust="spacingAndGlyphs">4</tspan><tspan x="-8.48" textLength="8.13" lengthAdjust="spacingAndGlyphs">0</tspan></text>
<text transform="translate(449.21,678.21) rotate(-30)" font-size="14.14" xml:space="preserve"><tspan x="-34.98" textLength="8.13" lengthAdjust="spacingAndGlyphs">2</tspan><tspan x="-26.15" textLength="8.13" lengthAdjust="spacingAndGlyphs">0</tspan><tspan x="-17.31" textLength="8.13" lengthAdjust="spacingAndGlyphs">5</tspan><tspan x="-8.48" textLength="8.13" lengthAdjust="spacingAndGlyphs">0</tspan></text>
<text transform="translate(532.23,678.21) rotate(-30)" font-size="14.14" xml:space="preserve"><tspan x="-34.98" textLength="8.13" lengthAdjust="spacingAndGlyphs">2</tspan><tspan x="-26.15" textLength="8.13" lengthAdjust="spacingAndGlyphs">0</tspan><tspan x="-17.31" textLength="8.13" lengthAdjust="spacingAndGlyphs">6</tspan><tspan x="-8.48" textLength="8.13" lengthAdjust="spacingAndGlyphs">0</tspan></text>
<text transform="translate(615.27,678.21) rotate(-30)" font-size="14.14" xml:space="preserve"><tspan x="-34.98" textLength="8.13" lengthAdjust="spacingAndGlyphs">2</tspan><tspan x="-26.15" textLength="8.13" lengthAdjust="spacingAndGlyphs">0</tspan><tspan x="-17.31" textLength="8.13" lengthAdjust="spacingAndGlyphs">7</tspan><tspan x="-8.48" textLength="8.13" lengthAdjust="spacingAndGlyphs">0</tspan></text>
<text transform="translate(698.28,678.21) rotate(-30)" font-size="14.14" xml:space="preserve"><tspan x="-34.98" textLength="8.13" lengthAdjust="spacingAndGlyphs">2</tspan><tspan x="-26.15" textLength="8.13" lengthAdjust="spacingAndGlyphs">0</tspan><tspan x="-17.31" textLength="8.13" lengthAdjust="spacingAndGlyphs">8</tspan><tspan x="-8.48" textLength="8.13" lengthAdjust="spacingAndGlyphs">0</tspan></text>
<text transform="translate(781.32,678.21) rotate(-30)" font-size="14.14" xml:space="preserve"><tspan x="-34.98" textLength="8.13" lengthAdjust="spacingAndGlyphs">2</tspan><tspan x="-26.15" textLength="8.13" lengthAdjust="spacingAndGlyphs">0</tspan><tspan x="-17.31" textLength="8.13" lengthAdjust="spacingAndGlyphs">9</tspan><tspan x="-8.48" textLength="8.13" lengthAdjust="spacingAndGlyphs">0</tspan></text>
<text transform="translate(864.34,678.21) rotate(-30)" font-size="14.14" xml:space="preserve"><tspan x="-34.98" textLength="8.13" lengthAdjust="spacingAndGlyphs">2</tspan><tspan x="-26.15" textLength="8.13" lengthAdjust="spacingAndGlyphs">1</tspan><tspan x="-17.31" textLength="8.13" lengthAdjust="spacingAndGlyphs">0</tspan><tspan x="-8.48" textLength="8.13" lengthAdjust="spacingAndGlyphs">0</tspan></text>
<text transform="translate(63.89,602.89) rotate(-90)" font-size="14.14" xml:space="preserve"><tspan x="-42.56" textLength="8.10" lengthAdjust="spacingAndGlyphs">n</tspan><tspan x="-33.75" textLength="8.10" lengthAdjust="spacingAndGlyphs">u</tspan><tspan x="-24.76" textLength="12.45" lengthAdjust="spacingAndGlyphs">m</tspan><tspan x="-11.23" textLength="12.45" lengthAdjust="spacingAndGlyphs">m</tspan><tspan x="2.10" textLength="7.83" lengthAdjust="spacingAndGlyphs">a</tspan><tspan x="10.56" textLength="6.66" lengthAdjust="spacingAndGlyphs">s</tspan><tspan x="17.83" textLength="7.40" lengthAdjust="spacingAndGlyphs">k</tspan><tspan x="25.89" textLength="7.86" lengthAdjust="spacingAndGlyphs">e</tspan><tspan x="34.44" textLength="8.11" lengthAdjust="spacingAndGlyphs">d</tspan></text>
<path d="M160.23 601 L864.77 601" fill="none" stroke="#1f77b4" stroke-width="2.08" stroke-linejoin="round" stroke-linecap="square"/>
<rect x="125.5" y="542.50" width="775.0" height="117.00" fill="none" stroke="#000" stroke-width="1.11"/>
</g>
<g id="ax4">
<rect x="125.0" y="682.76" width="775.0" height="117.24" fill="#fff"/>
<line x1="202.50" x2="202.50" y1="800.50" y2="805.36" stroke="#000" stroke-width="1.11"/>
<line x1="285.50" x2="285.50" y1="800.50" y2="805.36" stroke="#000" stroke-width="1.11"/>
<line x1="368.50" x2="368.50" y1="800.50" y2="805.36" stroke="#000" stroke-width="1.11"/>
<line x1="451.50" x2="451.50" y1="800.50" y2="805.36" stroke="#000" stroke-width="1.11"/>
<line x1="534.50" x2="534.50" y1="800.50" y2="805.36" stroke="#000" stroke-width="1.11"/>
<line x1="617.50" x2="617.50" y1="800.50" y2="805.36" stroke="#000" stroke-width="1.11"/>
<line x1="700.50" x2="700.50" y1="800.50" y2="805.36" stroke="#000" stroke-width="1.11"/>
<line x1="783.50" x2="783.50" y1="800.50" y2="805.36" stroke="#000" stroke-width="1.11"/>
<line x1="866.50" x2="866.50" y1="800.50" y2="805.36" stroke="#000" stroke-width="1.11"/>
<line x1="120.64" x2="125.5" y1="688.50" y2="688.50" stroke="#000" stroke-width="1.11"/>
<text transform="translate(115.28,693.38)" font-size="14.14" xml:space="preserve"><tspan x="-30.56" textLength="8.13" lengthAdjust="spacingAndGlyphs">0</tspan><tspan x="-21.91" textLength="4.06" lengthAdjust="spacingAndGlyphs">.</tspan><tspan x="-17.31" textLength="8.13" lengthAdjust="spacingAndGlyphs">0</tspan><tspan x="-8.48" textLength="8.13" lengthAdjust="spacingAndGlyphs">5</tspan></text>
<line x1="120.64" x2="125.5" y1="741.50" y2="741.50" stroke="#000" stroke-width="1.11"/>
<text transform="translate(115.28,746.68)" font-size="14.14" xml:space="preserve"><tspan x="-30.56" textLength="8.13" lengthAdjust="spacingAndGlyphs">0</tspan><tspan x="-21.91" textLength="4.06" lengthAdjust="spacingAndGlyphs">.</tspan><tspan x="-17.31" textLength="8.13" lengthAdjust="spacingAndGlyphs">0</tspan><tspan x="-8.48" textLength="8.13" lengthAdjust="spacingAndGlyphs">0</tspan></text>
<line x1="120.64" x2="125.5" y1="795.50" y2="795.50" stroke="#000" stroke-width="1.11"/>
<text transform="translate(115.28,799.98)" font-size="14.14" xml:space="preserve"><tspan x="-42.09" textLength="10.71" lengthAdjust="spacingAndGlyphs">−</tspan><tspan x="-30.56" textLength="8.13" lengthAdjust="spacingAndGlyphs">0</tspan><tspan x="-21.91" textLength="4.06" lengthAdjust="spacingAndGlyphs">.</tspan><tspan x="-17.31" textLength="8.13" lengthAdjust="spacingAndGlyphs">0</tspan><tspan x="-8.48" textLength="8.13" lengthAdjust="spacingAndGlyphs">5</tspan></text>
<text transform="translate(200.12,818.90) rotate(-30)" font-size="14.14" xml:space="preserve"><tspan x="-34.98" textLength="8.13" lengthAdjust="spacingAndGlyphs">2</tspan><tspan x="-26.15" textLength="8.13" lengthAdjust="spacingAndGlyphs">0</tspan><tspan x="-17.31" textLength="8.13" lengthAdjust="spacingAndGlyphs">2</tspan><tspan x="-8.48" textLength="8.13" lengthAdjust="spacingAndGlyphs">0</tspan></text>
<text transform="translate(283.16,818.90) rotate(-30)" font-size="14.14" xml:space="preserve"><tspan x="-34.98" textLength="8.13" lengthAdjust="spacingAndGlyphs">2</tspan><tspan x="-26.15" textLength="8.13" lengthAdjust="spacingAndGlyphs">0</tspan><tspan x="-17.31" textLength="8.13" lengthAdjust="spacingAndGlyphs">3</tspan><tspan x="-8.48" textLength="8.13" lengthAdjust="spacingAndGlyphs">0</tspan></text>
<text transform="translate(366.17,818.90) rotate(-30)" font-size="14.14" xml:space="preserve"><tspan x="-34.98" textLength="8.13" lengthAdjust="spacingAndGlyphs">2</tspan><tspan x="-26.15" textLength="8.13" lengthAdjust="spacingAndGlyphs">0</tspan><tspan x="-17.31" textLength="8.13" lengthAdjust="spacingAndGlyphs">4</tspan><tspan x="-8.48" textLength="8.13" lengthAdjust="spacingAndGlyphs">0</tspan></text>
<text transform="translate(449.21,818.90) rotate(-30)" font-size="14.14" xml:space="preserve"><tspan x="-34.98" textLength="8.13" lengthAdjust="spacingAndGlyphs">2</tspan><tspan x="-26.15" textLength="8.13" lengthAdjust="spacingAndGlyphs">0</tspan><tspan x="-17.31" textLength="8.13" lengthAdjust="spacingAndGlyphs">5</tspan><tspan x="-8.48" textLength="8.13" lengthAdjust="spacingAndGlyphs">0</tspan></text>
<text transform="translate(532.23,818.90) rotate(-30)" font-size="14.14" xml:space="preserve"><tspan x="-34.98" textLength="8.13" lengthAdjust="spacingAndGlyphs">2</tspan><tspan x="-26.15" textLength="8.13" lengthAdjust="spacingAndGlyphs">0</tspan><tspan x="-17.31" textLength="8.13" lengthAdjust="spacingAndGlyphs">6</tspan><tspan x="-8.48" textLength="8.13" lengthAdjust="spacingAndGlyphs">0</tspan></text>
<text transform="translate(615.27,818.90) rotate(-30)" font-size="14.14" xml:space="preserve"><tspan x="-34.98" textLength="8.13" lengthAdjust="spacingAndGlyphs">2</tspan><tspan x="-26.15" textLength="8.13" lengthAdjust="spacingAndGlyphs">0</tspan><tspan x="-17.31" textLength="8.13" lengthAdjust="spacingAndGlyphs">7</tspan><tspan x="-8.48" textLength="8.13" lengthAdjust="spacingAndGlyphs">0</tspan></text>
<text transform="translate(698.28,818.90) rotate(-30)" font-size="14.14" xml:space="preserve"><tspan x="-34.98" textLength="8.13" lengthAdjust="spacingAndGlyphs">2</tspan><tspan x="-26.15" textLength="8.13" lengthAdjust="spacingAndGlyphs">0</tspan><tspan x="-17.31" textLength="8.13" lengthAdjust="spacingAndGlyphs">8</tspan><tspan x="-8.48" textLength="8.13" lengthAdjust="spacingAndGlyphs">0</tspan></text>
<text transform="translate(781.32,818.90) rotate(-30)" font-size="14.14" xml:space="preserve"><tspan x="-34.98" textLength="8.13" lengthAdjust="spacingAndGlyphs">2</tspan><tspan x="-26.15" textLength="8.13" lengthAdjust="spacingAndGlyphs">0</tspan><tspan x="-17.31" textLength="8.13" lengthAdjust="spacingAndGlyphs">9</tspan><tspan x="-8.48" textLength="8.13" lengthAdjust="spacingAndGlyphs">0</tspan></text>
<text transform="translate(864.34,818.90) rotate(-30)" font-size="14.14" xml:space="preserve"><tspan x="-34.98" textLength="8.13" lengthAdjust="spacingAndGlyphs">2</tspan><tspan x="-26.15" textLength="8.13" lengthAdjust="spacingAndGlyphs">1</tspan><tspan x="-17.31" textLength="8.13" lengthAdjust="spacingAndGlyphs">0</tspan><tspan x="-8.48" textLength="8.13" lengthAdjust="spacingAndGlyphs">0</tspan></text>
<text transform="translate(63.89,743.68) rotate(-90)" font-size="14.14" xml:space="preserve"><tspan x="-28.28" textLength="8.10" lengthAdjust="spacingAndGlyphs">n</tspan><tspan x="-19.47" textLength="8.10" lengthAdjust="spacingAndGlyphs">u</tspan><tspan x="-10.48" textLength="12.45" lengthAdjust="spacingAndGlyphs">m</tspan><tspan x="2.86" textLength="8.10" lengthAdjust="spacingAndGlyphs">n</tspan><tspan x="11.65" textLength="7.83" lengthAdjust="spacingAndGlyphs">a</tspan><tspan x="20.18" textLength="8.10" lengthAdjust="spacingAndGlyphs">n</tspan></text>
<path d="M160.23 741 L864.77 741" fill="none" stroke="#1f77b4" stroke-width="2.08" stroke-linejoin="round" stroke-linecap="square"/>
<rect x="125.5" y="683.50" width="775.0" height="117.00" fill="none" stroke="#000" stroke-width="1.11"/>
<text transform="translate(512.50,855.60)" font-size="14.14" xml:space="preserve"><tspan x="-32.00" textLength="7.56" lengthAdjust="spacingAndGlyphs">v</tspan><tspan x="-23.76" textLength="7.83" lengthAdjust="spacingAndGlyphs">a</tspan><tspan x="-15.44" textLength="3.55" lengthAdjust="spacingAndGlyphs">l</tspan><tspan x="-11.57" textLength="3.55" lengthAdjust="spacingAndGlyphs">i</tspan><tspan x="-7.52" textLength="8.11" lengthAdjust="spacingAndGlyphs">d</tspan><tspan x="1.17" textLength="5.01" lengthAdjust="spacingAndGlyphs">t</tspan><tspan x="6.55" textLength="3.55" lengthAdjust="spacingAndGlyphs">i</tspan><tspan x="10.80" textLength="12.45" lengthAdjust="spacingAndGlyphs">m</tspan><tspan x="24.13" textLength="7.86" lengthAdjust="spacingAndGlyphs">e</tspan></text>
</g>
</svg></body></html>
